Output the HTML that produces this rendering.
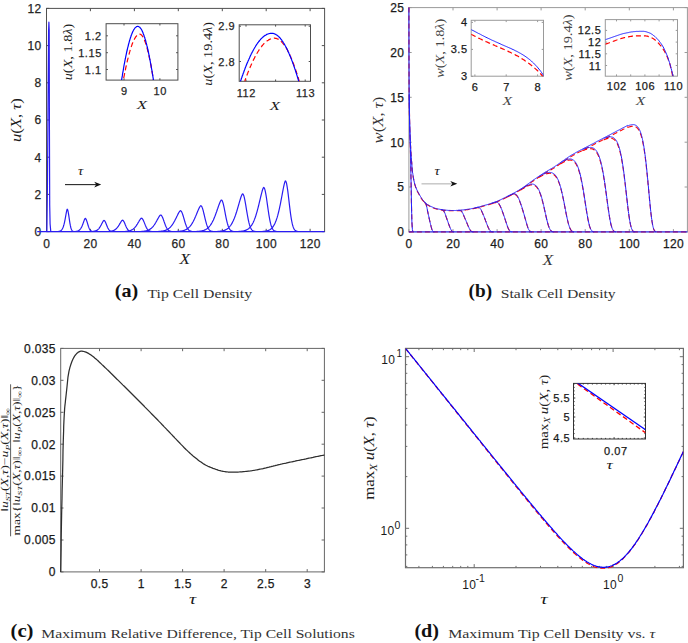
<!DOCTYPE html>
<html><head><meta charset="utf-8"><style>
html,body{margin:0;padding:0;background:#fff;}
svg{display:block;}
</style></head><body>
<svg width="688" height="643" viewBox="0 0 688 643">
<rect width="688" height="643" fill="#fff"/>
<rect x="46.5" y="8.4" width="278.1" height="223.2" fill="none" stroke="#505050" stroke-width="1"/>
<path d="M46.5,231.6V228.8M46.5,8.4V11.2M90.4,231.6V228.8M90.4,8.4V11.2M134.4,231.6V228.8M134.4,8.4V11.2M178.3,231.6V228.8M178.3,8.4V11.2M222.3,231.6V228.8M222.3,8.4V11.2M266.2,231.6V228.8M266.2,8.4V11.2M310.1,231.6V228.8M310.1,8.4V11.2M46.5,231.6H49.3M324.6,231.6H321.8M46.5,194.4H49.3M324.6,194.4H321.8M46.5,157.2H49.3M324.6,157.2H321.8M46.5,120H49.3M324.6,120H321.8M46.5,82.8H49.3M324.6,82.8H321.8M46.5,45.6H49.3M324.6,45.6H321.8M46.5,8.4H49.3M324.6,8.4H321.8" stroke="#505050" stroke-width="1" fill="none"/>
<text x="46.7" y="248" font-size="12" text-anchor="middle" fill="#262626" font-family="Liberation Sans, sans-serif"  letter-spacing="0.35" stroke="#262626" stroke-width="0.25">0</text>
<text x="90.6" y="248" font-size="12" text-anchor="middle" fill="#262626" font-family="Liberation Sans, sans-serif"  letter-spacing="0.35" stroke="#262626" stroke-width="0.25">20</text>
<text x="134.6" y="248" font-size="12" text-anchor="middle" fill="#262626" font-family="Liberation Sans, sans-serif"  letter-spacing="0.35" stroke="#262626" stroke-width="0.25">40</text>
<text x="178.5" y="248" font-size="12" text-anchor="middle" fill="#262626" font-family="Liberation Sans, sans-serif"  letter-spacing="0.35" stroke="#262626" stroke-width="0.25">60</text>
<text x="222.4" y="248" font-size="12" text-anchor="middle" fill="#262626" font-family="Liberation Sans, sans-serif"  letter-spacing="0.35" stroke="#262626" stroke-width="0.25">80</text>
<text x="266.4" y="248" font-size="12" text-anchor="middle" fill="#262626" font-family="Liberation Sans, sans-serif"  letter-spacing="0.35" stroke="#262626" stroke-width="0.25">100</text>
<text x="310.3" y="248" font-size="12" text-anchor="middle" fill="#262626" font-family="Liberation Sans, sans-serif"  letter-spacing="0.35" stroke="#262626" stroke-width="0.25">120</text>
<text x="41.6" y="235.9" font-size="12" text-anchor="end" fill="#262626" font-family="Liberation Sans, sans-serif"  letter-spacing="0.35" stroke="#262626" stroke-width="0.25">0</text>
<text x="41.6" y="198.7" font-size="12" text-anchor="end" fill="#262626" font-family="Liberation Sans, sans-serif"  letter-spacing="0.35" stroke="#262626" stroke-width="0.25">2</text>
<text x="41.6" y="161.5" font-size="12" text-anchor="end" fill="#262626" font-family="Liberation Sans, sans-serif"  letter-spacing="0.35" stroke="#262626" stroke-width="0.25">4</text>
<text x="41.6" y="124.3" font-size="12" text-anchor="end" fill="#262626" font-family="Liberation Sans, sans-serif"  letter-spacing="0.35" stroke="#262626" stroke-width="0.25">6</text>
<text x="41.6" y="87.1" font-size="12" text-anchor="end" fill="#262626" font-family="Liberation Sans, sans-serif"  letter-spacing="0.35" stroke="#262626" stroke-width="0.25">8</text>
<text x="41.6" y="49.9" font-size="12" text-anchor="end" fill="#262626" font-family="Liberation Sans, sans-serif"  letter-spacing="0.35" stroke="#262626" stroke-width="0.25">10</text>
<text x="41.6" y="12.7" font-size="12" text-anchor="end" fill="#262626" font-family="Liberation Sans, sans-serif"  letter-spacing="0.35" stroke="#262626" stroke-width="0.25">12</text>
<path d="M46.5,231.6H324.6M46.9,231.6L47.5,180L48.2,80L48.6,30L48.9,22.2L49.2,30L49.4,120L49.7,205L50.1,224L50.8,231.6M37.2,231.6L37.6,231.6L38,231.6L38.4,231.6L38.8,231.6L39.2,231.6L39.6,231.6L40,231.6L40.4,231.6L40.8,231.6L41.2,231.6L41.6,231.6L42,231.6L42.4,231.6L42.8,231.6L43.2,231.6L43.6,231.6L44,231.6L44.4,231.6L44.8,231.6L45.2,231.6L45.6,231.6L46,231.6L46.4,231.6L46.8,231.6L47.2,231.6L47.6,231.6L48,231.6L48.4,231.6L48.8,231.6L49.2,231.6L49.6,231.6L50,231.6L50.4,231.6L50.8,231.6L51.2,231.6L51.6,231.6L52,231.6L52.4,231.6L52.8,231.6L53.2,231.6L53.6,231.6L54,231.6L54.4,231.6L54.8,231.6L55.2,231.6L55.6,231.6L56,231.6L56.4,231.6L56.8,231.6L57.2,231.6L57.6,231.5L58,231.5L58.4,231.5L58.8,231.4L59.2,231.4L59.6,231.3L60,231.1L60.4,230.9L60.8,230.7L61.2,230.4L61.6,230L62,229.5L62.4,228.8L62.8,228L63.2,227L63.6,225.8L64,224.4L64.4,222.8L64.8,220.9L65.2,218.8L65.6,216.6L66,214.3L66.4,212.2L66.8,210.3L67.2,209.2L67.6,209.7L68,211L68.4,213.1L68.8,215.6L69.2,218.3L69.6,221.1L70,223.6L70.4,225.7L70.8,227.5L71.2,228.8L71.6,229.8L72,230.5L72.4,231L72.8,231.2L73.2,231.4L73.6,231.5L74,231.5L74.4,231.6L74.8,231.6L75.2,231.6L75.6,231.6L76,231.6L76.4,231.6L76.8,231.6L77.2,231.6L77.6,231.6L78,231.6L78.4,231.6L78.8,231.6L79.2,231.6L79.6,231.6L80,231.6L80.4,231.6L80.8,231.6L81.2,231.6L81.6,231.6L82,231.6M55.2,231.6L55.6,231.6L56,231.6L56.4,231.6L56.8,231.6L57.2,231.6L57.6,231.6L58,231.6L58.4,231.6L58.8,231.6L59.2,231.6L59.6,231.6L60,231.6L60.4,231.6L60.8,231.6L61.2,231.6L61.6,231.6L62,231.6L62.4,231.6L62.8,231.6L63.2,231.6L63.6,231.6L64,231.6L64.4,231.6L64.8,231.6L65.2,231.6L65.6,231.6L66,231.6L66.4,231.6L66.8,231.6L67.2,231.6L67.6,231.6L68,231.6L68.4,231.6L68.8,231.6L69.2,231.6L69.6,231.6L70,231.6L70.4,231.6L70.8,231.6L71.2,231.6L71.6,231.6L72,231.6L72.4,231.6L72.8,231.6L73.2,231.6L73.6,231.6L74,231.6L74.4,231.5L74.8,231.5L75.2,231.5L75.6,231.5L76,231.4L76.4,231.4L76.8,231.3L77.2,231.2L77.6,231.1L78,231L78.4,230.8L78.8,230.5L79.2,230.3L79.6,229.9L80,229.5L80.4,229L80.8,228.5L81.2,227.8L81.6,227.1L82,226.2L82.4,225.3L82.8,224.2L83.2,223.1L83.6,222L84,220.9L84.4,219.8L84.8,218.9L85.2,218.4L85.6,218.6L86,219.1L86.4,220L86.8,221.1L87.2,222.3L87.6,223.7L88,225L88.4,226.3L88.8,227.4L89.2,228.4L89.6,229.2L90,229.9L90.4,230.4L90.8,230.8L91.2,231.1L91.6,231.2L92,231.4L92.4,231.5L92.8,231.5L93.2,231.6L93.6,231.6L94,231.6L94.4,231.6L94.8,231.6L95.2,231.6L95.6,231.6L96,231.6L96.4,231.6L96.8,231.6L97.2,231.6L97.6,231.6L98,231.6L98.4,231.6L98.8,231.6L99.2,231.6L99.6,231.6L100,231.6M73.9,231.6L74.3,231.6L74.7,231.6L75.1,231.6L75.5,231.6L75.9,231.6L76.3,231.6L76.7,231.6L77.1,231.6L77.5,231.6L77.9,231.6L78.3,231.6L78.7,231.6L79.1,231.6L79.5,231.6L79.9,231.6L80.3,231.6L80.7,231.6L81.1,231.6L81.5,231.6L81.9,231.6L82.3,231.6L82.7,231.6L83.1,231.6L83.5,231.6L83.9,231.6L84.3,231.6L84.7,231.6L85.1,231.6L85.5,231.6L85.9,231.6L86.3,231.6L86.7,231.6L87.1,231.6L87.5,231.6L87.9,231.6L88.3,231.6L88.7,231.6L89.1,231.6L89.5,231.6L89.9,231.6L90.3,231.6L90.7,231.6L91.1,231.5L91.5,231.5L91.9,231.5L92.3,231.5L92.7,231.5L93.1,231.4L93.5,231.4L93.9,231.3L94.3,231.2L94.7,231.2L95.1,231.1L95.5,230.9L95.9,230.8L96.3,230.6L96.7,230.4L97.1,230.2L97.5,229.9L97.9,229.6L98.3,229.2L98.7,228.8L99.1,228.3L99.5,227.7L99.9,227.2L100.3,226.5L100.7,225.8L101.1,225.1L101.5,224.3L101.9,223.5L102.3,222.7L102.7,222L103.1,221.3L103.5,220.7L103.9,220.4L104.3,220.5L104.7,220.9L105.1,221.5L105.5,222.3L105.9,223.2L106.3,224.2L106.7,225.2L107.1,226.2L107.5,227.2L107.9,228.1L108.3,228.8L108.7,229.5L109.1,230L109.5,230.4L109.9,230.8L110.3,231L110.7,231.2L111.1,231.3L111.5,231.4L111.9,231.5L112.3,231.5L112.7,231.6L113.1,231.6L113.5,231.6L113.9,231.6L114.3,231.6L114.7,231.6L115.1,231.6L115.5,231.6L115.9,231.6L116.3,231.6L116.7,231.6L117.1,231.6L117.5,231.6L117.9,231.6L118.3,231.6L118.7,231.6M92.4,231.6L92.8,231.6L93.2,231.6L93.6,231.6L94,231.6L94.4,231.6L94.8,231.6L95.2,231.6L95.6,231.6L96,231.6L96.4,231.6L96.8,231.6L97.2,231.6L97.6,231.6L98,231.6L98.4,231.6L98.8,231.6L99.2,231.6L99.6,231.6L100,231.6L100.4,231.6L100.8,231.6L101.2,231.6L101.6,231.6L102,231.6L102.4,231.6L102.8,231.6L103.2,231.6L103.6,231.6L104,231.6L104.4,231.6L104.8,231.6L105.2,231.6L105.6,231.6L106,231.6L106.4,231.6L106.8,231.6L107.2,231.5L107.6,231.5L108,231.5L108.4,231.5L108.8,231.5L109.2,231.4L109.6,231.4L110,231.4L110.4,231.3L110.8,231.3L111.2,231.2L111.6,231.1L112,231L112.4,230.9L112.8,230.8L113.2,230.7L113.6,230.5L114,230.3L114.4,230.1L114.8,229.9L115.2,229.6L115.6,229.3L116,228.9L116.4,228.6L116.8,228.1L117.2,227.7L117.6,227.2L118,226.6L118.4,226.1L118.8,225.4L119.2,224.8L119.6,224.1L120,223.4L120.4,222.8L120.8,222.1L121.2,221.5L121.6,220.9L122,220.5L122.4,220.2L122.8,220.3L123.2,220.6L123.6,221.1L124,221.8L124.4,222.6L124.8,223.5L125.2,224.5L125.6,225.4L126,226.4L126.4,227.2L126.8,228L127.2,228.7L127.6,229.3L128,229.9L128.4,230.3L128.8,230.6L129.2,230.9L129.6,231.1L130,231.2L130.4,231.4L130.8,231.4L131.2,231.5L131.6,231.5L132,231.6L132.4,231.6L132.8,231.6L133.2,231.6L133.6,231.6L134,231.6L134.4,231.6L134.8,231.6L135.2,231.6L135.6,231.6L136,231.6L136.4,231.6L136.8,231.6L137.2,231.6M111.4,231.6L111.8,231.6L112.2,231.6L112.6,231.6L113,231.6L113.4,231.6L113.8,231.6L114.2,231.6L114.6,231.6L115,231.6L115.4,231.6L115.8,231.6L116.2,231.6L116.6,231.6L117,231.6L117.4,231.6L117.8,231.6L118.2,231.6L118.6,231.6L119,231.6L119.4,231.6L119.8,231.6L120.2,231.6L120.6,231.6L121,231.6L121.4,231.6L121.8,231.6L122.2,231.6L122.6,231.6L123,231.5L123.4,231.5L123.8,231.5L124.2,231.5L124.6,231.5L125,231.5L125.4,231.5L125.8,231.4L126.2,231.4L126.6,231.4L127,231.3L127.4,231.3L127.8,231.2L128.2,231.1L128.6,231.1L129,231L129.4,230.9L129.8,230.8L130.2,230.6L130.6,230.5L131,230.3L131.4,230.1L131.8,229.9L132.2,229.7L132.6,229.5L133,229.2L133.4,228.9L133.8,228.5L134.2,228.2L134.6,227.7L135,227.3L135.4,226.8L135.8,226.3L136.2,225.8L136.6,225.2L137,224.6L137.4,224L137.8,223.3L138.2,222.6L138.6,222L139,221.3L139.4,220.6L139.8,220L140.2,219.4L140.6,218.9L141,218.4L141.4,218.2L141.8,218.3L142.2,218.6L142.6,219.1L143,219.7L143.4,220.5L143.8,221.4L144.2,222.4L144.6,223.4L145,224.4L145.4,225.4L145.8,226.3L146.2,227.2L146.6,227.9L147,228.6L147.4,229.2L147.8,229.7L148.2,230.1L148.6,230.5L149,230.8L149.4,231L149.8,231.1L150.2,231.3L150.6,231.4L151,231.4L151.4,231.5L151.8,231.5L152.2,231.6L152.6,231.6L153,231.6L153.4,231.6L153.8,231.6L154.2,231.6L154.6,231.6L155,231.6L155.4,231.6L155.8,231.6L156.2,231.6M130.6,231.6L131,231.6L131.4,231.6L131.8,231.6L132.2,231.6L132.6,231.6L133,231.6L133.4,231.6L133.8,231.6L134.2,231.6L134.6,231.6L135,231.6L135.4,231.6L135.8,231.6L136.2,231.6L136.6,231.6L137,231.6L137.4,231.6L137.8,231.6L138.2,231.6L138.6,231.6L139,231.5L139.4,231.5L139.8,231.5L140.2,231.5L140.6,231.5L141,231.5L141.4,231.5L141.8,231.4L142.2,231.4L142.6,231.4L143,231.3L143.4,231.3L143.8,231.3L144.2,231.2L144.6,231.2L145,231.1L145.4,231L145.8,230.9L146.2,230.9L146.6,230.8L147,230.6L147.4,230.5L147.8,230.4L148.2,230.2L148.6,230L149,229.8L149.4,229.6L149.8,229.4L150.2,229.1L150.6,228.8L151,228.5L151.4,228.2L151.8,227.8L152.2,227.4L152.6,227L153,226.6L153.4,226.1L153.8,225.5L154.2,225L154.6,224.4L155,223.8L155.4,223.1L155.8,222.5L156.2,221.8L156.6,221.1L157,220.3L157.4,219.6L157.8,218.9L158.2,218.2L158.6,217.5L159,216.8L159.4,216.2L159.8,215.7L160.2,215.2L160.6,215L161,215.1L161.4,215.4L161.8,216L162.2,216.7L162.6,217.5L163,218.5L163.4,219.6L163.8,220.7L164.2,221.9L164.6,223L165,224.1L165.4,225.2L165.8,226.2L166.2,227L166.6,227.8L167,228.5L167.4,229.1L167.8,229.6L168.2,230.1L168.6,230.4L169,230.7L169.4,230.9L169.8,231.1L170.2,231.2L170.6,231.3L171,231.4L171.4,231.5L171.8,231.5L172.2,231.5L172.6,231.6L173,231.6L173.4,231.6L173.8,231.6L174.2,231.6L174.6,231.6L175,231.6L175.4,231.6M150.4,231.6L150.8,231.6L151.2,231.6L151.6,231.6L152,231.6L152.4,231.6L152.8,231.6L153.2,231.6L153.6,231.6L154,231.6L154.4,231.6L154.8,231.6L155.2,231.6L155.6,231.5L156,231.5L156.4,231.5L156.8,231.5L157.2,231.5L157.6,231.5L158,231.5L158.4,231.5L158.8,231.4L159.2,231.4L159.6,231.4L160,231.4L160.4,231.3L160.8,231.3L161.2,231.2L161.6,231.2L162,231.1L162.4,231.1L162.8,231L163.2,230.9L163.6,230.9L164,230.8L164.4,230.7L164.8,230.5L165.2,230.4L165.6,230.3L166,230.1L166.4,229.9L166.8,229.8L167.2,229.5L167.6,229.3L168,229.1L168.4,228.8L168.8,228.5L169.2,228.2L169.6,227.8L170,227.5L170.4,227.1L170.8,226.6L171.2,226.2L171.6,225.7L172,225.2L172.4,224.6L172.8,224L173.2,223.4L173.6,222.7L174,222L174.4,221.3L174.8,220.6L175.2,219.8L175.6,219L176,218.2L176.4,217.4L176.8,216.6L177.2,215.8L177.6,214.9L178,214.1L178.4,213.4L178.8,212.6L179.2,212L179.6,211.4L180,211L180.4,210.7L180.8,210.8L181.2,211.2L181.6,211.8L182,212.6L182.4,213.6L182.8,214.8L183.2,216L183.6,217.4L184,218.7L184.4,220.1L184.8,221.5L185.2,222.8L185.6,224L186,225.1L186.4,226.2L186.8,227.1L187.2,227.9L187.6,228.6L188,229.2L188.4,229.7L188.8,230.1L189.2,230.5L189.6,230.7L190,230.9L190.4,231.1L190.8,231.2L191.2,231.3L191.6,231.4L192,231.5L192.4,231.5L192.8,231.5L193.2,231.6L193.6,231.6L194,231.6L194.4,231.6L194.8,231.6L195.2,231.6M170.8,231.6L171.2,231.6L171.6,231.6L172,231.6L172.4,231.6L172.8,231.6L173.2,231.6L173.6,231.6L174,231.5L174.4,231.5L174.8,231.5L175.2,231.5L175.6,231.5L176,231.5L176.4,231.5L176.8,231.5L177.2,231.4L177.6,231.4L178,231.4L178.4,231.4L178.8,231.3L179.2,231.3L179.6,231.3L180,231.2L180.4,231.2L180.8,231.1L181.2,231.1L181.6,231L182,230.9L182.4,230.9L182.8,230.8L183.2,230.7L183.6,230.5L184,230.4L184.4,230.3L184.8,230.1L185.2,230L185.6,229.8L186,229.6L186.4,229.4L186.8,229.1L187.2,228.9L187.6,228.6L188,228.3L188.4,228L188.8,227.6L189.2,227.2L189.6,226.8L190,226.3L190.4,225.9L190.8,225.3L191.2,224.8L191.6,224.2L192,223.6L192.4,222.9L192.8,222.2L193.2,221.5L193.6,220.7L194,219.9L194.4,219.1L194.8,218.2L195.2,217.3L195.6,216.4L196,215.4L196.4,214.5L196.8,213.5L197.2,212.5L197.6,211.6L198,210.6L198.4,209.7L198.8,208.8L199.2,207.9L199.6,207.2L200,206.5L200.4,206L200.8,205.7L201.2,205.9L201.6,206.3L202,207.1L202.4,208.1L202.8,209.3L203.2,210.7L203.6,212.3L204,214L204.4,215.7L204.8,217.4L205.2,219.1L205.6,220.7L206,222.2L206.4,223.6L206.8,224.9L207.2,226L207.6,227L208,227.9L208.4,228.6L208.8,229.2L209.2,229.8L209.6,230.2L210,230.5L210.4,230.8L210.8,231L211.2,231.2L211.6,231.3L212,231.4L212.4,231.4L212.8,231.5L213.2,231.5L213.6,231.5L214,231.6L214.4,231.6L214.8,231.6L215.2,231.6L215.6,231.6M191.4,231.6L191.8,231.6L192.2,231.6L192.6,231.6L193,231.6L193.4,231.6L193.8,231.5L194.2,231.5L194.6,231.5L195,231.5L195.4,231.5L195.8,231.5L196.2,231.5L196.6,231.5L197,231.4L197.4,231.4L197.8,231.4L198.2,231.4L198.6,231.3L199,231.3L199.4,231.3L199.8,231.2L200.2,231.2L200.6,231.1L201,231L201.4,231L201.8,230.9L202.2,230.8L202.6,230.7L203,230.6L203.4,230.5L203.8,230.4L204.2,230.2L204.6,230.1L205,229.9L205.4,229.7L205.8,229.5L206.2,229.2L206.6,229L207,228.7L207.4,228.4L207.8,228.1L208.2,227.7L208.6,227.4L209,226.9L209.4,226.5L209.8,226L210.2,225.5L210.6,224.9L211,224.3L211.4,223.7L211.8,223L212.2,222.3L212.6,221.5L213,220.7L213.4,219.9L213.8,219L214.2,218.1L214.6,217.1L215,216.1L215.4,215L215.8,213.9L216.2,212.8L216.6,211.7L217,210.5L217.4,209.3L217.8,208.2L218.2,207L218.6,205.9L219,204.8L219.4,203.7L219.8,202.7L220.2,201.8L220.6,201L221,200.3L221.4,200L221.8,200.2L222.2,200.7L222.6,201.7L223,202.9L223.4,204.4L223.8,206.1L224.2,208L224.6,210.1L225,212.2L225.4,214.3L225.8,216.3L226.2,218.3L226.6,220.1L227,221.8L227.4,223.4L227.8,224.8L228.2,226L228.6,227.1L229,228L229.4,228.7L229.8,229.4L230.2,229.9L230.6,230.3L231,230.6L231.4,230.9L231.8,231.1L232.2,231.2L232.6,231.3L233,231.4L233.4,231.5L233.8,231.5L234.2,231.5L234.6,231.6L235,231.6L235.4,231.6L235.8,231.6L236.2,231.6M212.6,231.6L213,231.6L213.4,231.6L213.8,231.6L214.2,231.6L214.6,231.5L215,231.5L215.4,231.5L215.8,231.5L216.2,231.5L216.6,231.5L217,231.5L217.4,231.5L217.8,231.4L218.2,231.4L218.6,231.4L219,231.4L219.4,231.3L219.8,231.3L220.2,231.2L220.6,231.2L221,231.1L221.4,231.1L221.8,231L222.2,230.9L222.6,230.9L223,230.8L223.4,230.7L223.8,230.5L224.2,230.4L224.6,230.3L225,230.1L225.4,229.9L225.8,229.8L226.2,229.5L226.6,229.3L227,229.1L227.4,228.8L227.8,228.5L228.2,228.2L228.6,227.8L229,227.4L229.4,227L229.8,226.5L230.2,226L230.6,225.5L231,224.9L231.4,224.3L231.8,223.6L232.2,222.9L232.6,222.1L233,221.3L233.4,220.5L233.8,219.6L234.2,218.6L234.6,217.6L235,216.5L235.4,215.4L235.8,214.2L236.2,213L236.6,211.8L237,210.5L237.4,209.1L237.8,207.8L238.2,206.4L238.6,205L239,203.6L239.4,202.2L239.8,200.8L240.2,199.5L240.6,198.2L241,197L241.4,195.9L241.8,195L242.2,194.2L242.6,193.8L243,194L243.4,194.7L243.8,195.7L244.2,197.1L244.6,198.8L245,200.8L245.4,203.1L245.8,205.4L246.2,207.8L246.6,210.3L247,212.7L247.4,215L247.8,217.2L248.2,219.3L248.6,221.2L249,222.9L249.4,224.4L249.8,225.7L250.2,226.8L250.6,227.8L251,228.6L251.4,229.2L251.8,229.8L252.2,230.2L252.6,230.5L253,230.8L253.4,231L253.8,231.2L254.2,231.3L254.6,231.4L255,231.4L255.4,231.5L255.8,231.5L256.2,231.5L256.6,231.6L257,231.6L257.4,231.6M233.7,231.6L234.1,231.6L234.5,231.6L234.9,231.6L235.3,231.6L235.7,231.6L236.1,231.5L236.5,231.5L236.9,231.5L237.3,231.5L237.7,231.5L238.1,231.5L238.5,231.5L238.9,231.4L239.3,231.4L239.7,231.4L240.1,231.4L240.5,231.3L240.9,231.3L241.3,231.3L241.7,231.2L242.1,231.2L242.5,231.1L242.9,231L243.3,231L243.7,230.9L244.1,230.8L244.5,230.7L244.9,230.6L245.3,230.4L245.7,230.3L246.1,230.1L246.5,229.9L246.9,229.7L247.3,229.5L247.7,229.3L248.1,229L248.5,228.7L248.9,228.4L249.3,228L249.7,227.6L250.1,227.2L250.5,226.7L250.9,226.2L251.3,225.7L251.7,225.1L252.1,224.4L252.5,223.7L252.9,223L253.3,222.2L253.7,221.3L254.1,220.4L254.5,219.4L254.9,218.3L255.3,217.2L255.7,216L256.1,214.7L256.5,213.4L256.9,212.1L257.3,210.6L257.7,209.1L258.1,207.6L258.5,206L258.9,204.4L259.3,202.7L259.7,201L260.1,199.3L260.5,197.6L260.9,196L261.3,194.3L261.7,192.8L262.1,191.3L262.5,190L262.9,188.8L263.3,187.9L263.7,187.4L264.1,187.7L264.5,188.4L264.9,189.6L265.3,191.3L265.7,193.3L266.1,195.6L266.5,198.2L266.9,201L267.3,203.8L267.7,206.7L268.1,209.5L268.5,212.2L268.9,214.8L269.3,217.2L269.7,219.4L270.1,221.4L270.5,223.2L270.9,224.7L271.3,226L271.7,227.1L272.1,228.1L272.5,228.8L272.9,229.5L273.3,230L273.7,230.4L274.1,230.7L274.5,230.9L274.9,231.1L275.3,231.2L275.7,231.3L276.1,231.4L276.5,231.5L276.9,231.5L277.3,231.5L277.7,231.6L278.1,231.6L278.5,231.6M255.4,231.6L255.8,231.6L256.2,231.6L256.6,231.6L257,231.6L257.4,231.6L257.8,231.6L258.2,231.6L258.6,231.6L259,231.6L259.4,231.6L259.8,231.6L260.2,231.5L260.6,231.5L261,231.5L261.4,231.5L261.8,231.5L262.2,231.5L262.6,231.5L263,231.4L263.4,231.4L263.8,231.4L264.2,231.3L264.6,231.3L265,231.2L265.4,231.2L265.8,231.1L266.2,231L266.6,231L267,230.9L267.4,230.8L267.8,230.6L268.2,230.5L268.6,230.3L269,230.2L269.4,230L269.8,229.8L270.2,229.5L270.6,229.2L271,228.9L271.4,228.6L271.8,228.2L272.2,227.7L272.6,227.3L273,226.7L273.4,226.2L273.8,225.5L274.2,224.8L274.6,224.1L275,223.2L275.4,222.3L275.8,221.3L276.2,220.3L276.6,219.1L277,217.9L277.4,216.6L277.8,215.2L278.2,213.6L278.6,212L279,210.4L279.4,208.6L279.8,206.7L280.2,204.8L280.6,202.8L281,200.7L281.4,198.6L281.8,196.5L282.2,194.3L282.6,192.2L283,190.1L283.4,188L283.8,186.1L284.2,184.4L284.6,182.8L285,181.6L285.4,180.9L285.8,181.2L286.2,182.2L286.6,183.7L287,185.8L287.4,188.3L287.8,191.2L288.2,194.3L288.6,197.7L289,201.1L289.4,204.6L289.8,207.9L290.2,211.1L290.6,214.1L291,216.8L291.4,219.3L291.8,221.5L292.2,223.4L292.6,225L293,226.4L293.4,227.5L293.8,228.4L294.2,229.2L294.6,229.8L295,230.2L295.4,230.6L295.8,230.9L296.2,231.1L296.6,231.2L297,231.3L297.4,231.4L297.8,231.5L298.2,231.5L298.6,231.5L299,231.6L299.4,231.6L299.8,231.6L300.2,231.6" stroke="#2a1cf2" stroke-width="1.2" fill="none" stroke-linejoin="round"/>
<line x1="65" y1="184.6" x2="96.2" y2="184.6" stroke="#262626" stroke-width="1.1" />
<path d="M101.2,184.6L94.2,181.8L96.2,184.6L94.2,187.4Z" fill="#111"/>
<text x="80.5" y="174.9" font-size="11.5" text-anchor="middle" fill="#1a1a1a" font-family="Liberation Serif, serif" textLength="5.2" lengthAdjust="spacingAndGlyphs"><tspan font-style="italic">τ</tspan></text>
<text x="184.9" y="264.2" font-size="14.4" text-anchor="middle" fill="#1a1a1a" font-family="Liberation Serif, serif" textLength="10.6" lengthAdjust="spacingAndGlyphs"><tspan font-style="italic">X</tspan></text>
<text transform="translate(20.6,120.1) rotate(-90)" font-size="14.4" text-anchor="middle" fill="#1a1a1a" font-family="Liberation Serif, serif" textLength="44" lengthAdjust="spacingAndGlyphs"><tspan font-style="italic">u</tspan><tspan>(</tspan><tspan font-style="italic">X</tspan><tspan>, </tspan><tspan font-style="italic">τ</tspan><tspan>)</tspan></text>
<rect x="106.1" y="23.7" width="71.8" height="56.4" fill="#fff" stroke="#4d4d4d" stroke-width="1"/>
<path d="M124,80.1V78.3M124,23.7V25.5M159.9,80.1V78.3M159.9,23.7V25.5M106.1,69.5H107.9M177.9,69.5H176.1M106.1,52.7H107.9M177.9,52.7H176.1M106.1,35.8H107.9M177.9,35.8H176.1" stroke="#4d4d4d" stroke-width="1" fill="none"/>
<clipPath id="ca1"><rect x="106.1" y="23.7" width="71.80000000000001" height="56.39999999999999"/></clipPath>
<g clip-path="url(#ca1)"><path d="M106.1,196.8L106.5,193.5L107,190.2L107.4,186.8L107.9,183.5L108.3,180.2L108.8,176.8L109.2,173.5L109.7,170.2L110.1,166.9L110.6,163.6L111,160.3L111.5,157.1L111.9,153.8L112.4,150.6L112.8,147.3L113.3,144.1L113.7,141L114.2,137.8L114.6,134.7L115.1,131.6L115.5,128.5L116,125.4L116.4,122.4L116.9,119.4L117.3,116.4L117.8,113.5L118.2,110.6L118.7,107.7L119.1,104.9L119.6,102.1L120,99.3L120.5,96.6L120.9,93.9L121.4,91.3L121.8,88.7L122.3,86.2L122.7,83.7L123.2,81.2L123.6,78.9L124,76.5L124.5,74.2L124.9,72L125.4,69.8L125.8,67.7L126.3,65.6L126.7,63.6L127.2,61.6L127.6,59.8L128.1,57.9L128.5,56.2L129,54.4L129.4,52.8L129.9,51.2L130.3,49.7L130.8,48.3L131.2,46.9L131.7,45.6L132.1,44.3L132.6,43.1L133,42L133.5,41L133.9,40L134.4,39.1L134.8,38.3L135.3,37.6L135.7,36.9L136.2,36.3L136.6,35.8L137.1,35.3L137.5,34.9L138,34.6L138.4,34.4L138.9,34.2L139.3,34.1L139.8,34.1L140.2,34.2L140.7,34.4L141.1,34.7L141.6,35.1L142,35.6L142.4,36.2L142.9,36.9L143.3,37.7L143.8,38.6L144.2,39.6L144.7,40.7L145.1,41.8L145.6,43.1L146,44.5L146.5,46L146.9,47.6L147.4,49.2L147.8,51L148.3,52.8L148.7,54.8L149.2,56.8L149.6,58.9L150.1,61.1L150.5,63.3L151,65.7L151.4,68.1L151.9,70.6L152.3,73.2L152.8,75.9L153.2,78.6L153.7,81.4L154.1,84.2L154.6,87.2L155,90.2L155.5,93.2L155.9,96.3L156.4,99.5L156.8,102.7L157.3,106L157.7,109.4L158.2,112.8L158.6,116.2L159.1,119.7L159.5,123.2L159.9,126.7L160.4,130.3L160.8,134L161.3,137.6L161.7,141.3L162.2,145.1L162.6,148.8L163.1,152.6L163.5,156.4L164,160.2L164.4,164L164.9,167.9L165.3,171.8L165.8,175.6L166.2,179.5L166.7,183.4L167.1,187.3L167.6,191.2L168,195.1L168.5,199.1L168.9,203L169.4,206.9L169.8,210.7L170.3,214.6L170.7,218.5L171.2,222.4L171.6,226.2L172.1,230.1L172.5,233.9L173,237.7L173.4,241.5L173.9,245.2L174.3,248.9L174.8,252.7L175.2,256.3L175.7,260L176.1,263.6L176.6,267.2L177,270.8L177.5,274.3L177.9,277.8" stroke="#ff0000" stroke-width="1.2" stroke-dasharray="5,3" fill="none"/><path d="M106.1,197.4L106.5,193.8L107,190.1L107.4,186.4L107.9,182.7L108.3,179L108.8,175.4L109.2,171.7L109.7,168L110.1,164.4L110.6,160.7L111,157.1L111.5,153.5L111.9,149.9L112.4,146.3L112.8,142.8L113.3,139.2L113.7,135.7L114.2,132.2L114.6,128.8L115.1,125.4L115.5,122L116,118.6L116.4,115.3L116.9,112L117.3,108.7L117.8,105.5L118.2,102.3L118.7,99.2L119.1,96.1L119.6,93L120,90L120.5,87.1L120.9,84.2L121.4,81.4L121.8,78.6L122.3,75.9L122.7,73.2L123.2,70.6L123.6,68L124,65.5L124.5,63.1L124.9,60.8L125.4,58.5L125.8,56.3L126.3,54.1L126.7,52L127.2,50L127.6,48.1L128.1,46.3L128.5,44.5L129,42.8L129.4,41.2L129.9,39.6L130.3,38.2L130.8,36.8L131.2,35.5L131.7,34.3L132.1,33.2L132.6,32.1L133,31.2L133.5,30.3L133.9,29.5L134.4,28.8L134.8,28.2L135.3,27.7L135.7,27.2L136.2,26.9L136.6,26.6L137.1,26.5L137.5,26.4L138,26.4L138.4,26.5L138.9,26.7L139.3,27L139.8,27.3L140.2,27.8L140.7,28.4L141.1,29L141.6,29.8L142,30.6L142.4,31.6L142.9,32.6L143.3,33.7L143.8,34.9L144.2,36.2L144.7,37.5L145.1,39L145.6,40.5L146,42.2L146.5,43.9L146.9,45.7L147.4,47.5L147.8,49.5L148.3,51.5L148.7,53.6L149.2,55.8L149.6,58.1L150.1,60.4L150.5,62.8L151,65.2L151.4,67.8L151.9,70.4L152.3,73L152.8,75.8L153.2,78.5L153.7,81.4L154.1,84.3L154.6,87.3L155,90.3L155.5,93.3L155.9,96.5L156.4,99.6L156.8,102.8L157.3,106.1L157.7,109.4L158.2,112.7L158.6,116.1L159.1,119.5L159.5,123L159.9,126.5L160.4,130L160.8,133.6L161.3,137.1L161.7,140.7L162.2,144.4L162.6,148L163.1,151.7L163.5,155.4L164,159.1L164.4,162.8L164.9,166.5L165.3,170.2L165.8,174L166.2,177.8L166.7,181.5L167.1,185.3L167.6,189L168,192.8L168.5,196.6L168.9,200.3L169.4,204.1L169.8,207.8L170.3,211.6L170.7,215.3L171.2,219L171.6,222.7L172.1,226.4L172.5,230.1L173,233.8L173.4,237.4L173.9,241.1L174.3,244.7L174.8,248.2L175.2,251.8L175.7,255.3L176.1,258.8L176.6,262.3L177,265.8L177.5,269.2L177.9,272.6" stroke="#0000ff" stroke-width="1.2" fill="none"/></g>
<text x="101.8" y="73.5" font-size="11" text-anchor="end" fill="#262626" font-family="Liberation Sans, sans-serif"  letter-spacing="0.55" stroke="#262626" stroke-width="0.25">1.1</text>
<text x="101.8" y="56.7" font-size="11" text-anchor="end" fill="#262626" font-family="Liberation Sans, sans-serif"  letter-spacing="0.55" stroke="#262626" stroke-width="0.25">1.15</text>
<text x="101.8" y="39.8" font-size="11" text-anchor="end" fill="#262626" font-family="Liberation Sans, sans-serif"  letter-spacing="0.55" stroke="#262626" stroke-width="0.25">1.2</text>
<text x="124.3" y="94.6" font-size="11" text-anchor="middle" fill="#262626" font-family="Liberation Sans, sans-serif"  letter-spacing="0.55" stroke="#262626" stroke-width="0.25">9</text>
<text x="160.2" y="94.6" font-size="11" text-anchor="middle" fill="#262626" font-family="Liberation Sans, sans-serif"  letter-spacing="0.55" stroke="#262626" stroke-width="0.25">10</text>
<text x="141.9" y="108.6" font-size="12.3" text-anchor="middle" fill="#1a1a1a" font-family="Liberation Serif, serif" textLength="10.3" lengthAdjust="spacingAndGlyphs"><tspan font-style="italic">X</tspan></text>
<text transform="translate(71.8,52) rotate(-90)" font-size="12.3" text-anchor="middle" fill="#1a1a1a" font-family="Liberation Serif, serif" textLength="56.6" lengthAdjust="spacingAndGlyphs"><tspan font-style="italic">u</tspan><tspan>(</tspan><tspan font-style="italic">X</tspan><tspan>, </tspan><tspan>1.8</tspan><tspan font-style="italic">λ</tspan><tspan>)</tspan></text>
<rect x="239.2" y="24.8" width="71.3" height="56.5" fill="#fff" stroke="#4d4d4d" stroke-width="1"/>
<path d="M246,81.3V79.5M246,24.8V26.6M275.6,81.3V79.5M275.6,24.8V26.6M305.2,81.3V79.5M305.2,24.8V26.6M239.2,61.5H241M310.5,61.5H308.7M239.2,26.2H241M310.5,26.2H308.7" stroke="#4d4d4d" stroke-width="1" fill="none"/>
<clipPath id="ca2"><rect x="239.2" y="24.8" width="71.30000000000001" height="56.5"/></clipPath>
<g clip-path="url(#ca2)"><path d="M239.2,98.2L239.6,96.7L240.1,95.3L240.5,93.8L241,92.4L241.4,91L241.9,89.7L242.3,88.3L242.8,86.9L243.2,85.6L243.7,84.3L244.1,83L244.6,81.7L245,80.5L245.4,79.2L245.9,78L246.3,76.8L246.8,75.6L247.2,74.4L247.7,73.3L248.1,72.1L248.6,71L249,69.9L249.5,68.8L249.9,67.8L250.3,66.7L250.8,65.7L251.2,64.7L251.7,63.7L252.1,62.7L252.6,61.8L253,60.8L253.5,59.9L253.9,59L254.4,58.1L254.8,57.3L255.3,56.4L255.7,55.6L256.1,54.8L256.6,54L257,53.2L257.5,52.5L257.9,51.7L258.4,51L258.8,50.3L259.3,49.7L259.7,49L260.2,48.4L260.6,47.7L261,47.1L261.5,46.6L261.9,46L262.4,45.5L262.8,44.9L263.3,44.4L263.7,43.9L264.2,43.5L264.6,43L265.1,42.6L265.5,42.2L266,41.8L266.4,41.5L266.8,41.1L267.3,40.8L267.7,40.5L268.2,40.2L268.6,39.9L269.1,39.7L269.5,39.4L270,39.2L270.4,39L270.9,38.9L271.3,38.7L271.7,38.6L272.2,38.5L272.6,38.4L273.1,38.3L273.5,38.3L274,38.2L274.4,38.2L274.9,38.2L275.3,38.3L275.8,38.3L276.2,38.4L276.7,38.6L277.1,38.7L277.5,38.9L278,39.1L278.4,39.3L278.9,39.6L279.3,39.9L279.8,40.2L280.2,40.6L280.7,40.9L281.1,41.4L281.6,41.8L282,42.3L282.4,42.7L282.9,43.3L283.3,43.8L283.8,44.4L284.2,45L284.7,45.6L285.1,46.3L285.6,47L286,47.7L286.5,48.4L286.9,49.2L287.4,50L287.8,50.8L288.2,51.7L288.7,52.6L289.1,53.5L289.6,54.4L290,55.4L290.5,56.4L290.9,57.4L291.4,58.4L291.8,59.5L292.3,60.6L292.7,61.7L293.1,62.8L293.6,64L294,65.2L294.5,66.5L294.9,67.7L295.4,69L295.8,70.3L296.3,71.6L296.7,73L297.2,74.4L297.6,75.8L298.1,77.2L298.5,78.7L298.9,80.1L299.4,81.7L299.8,83.2L300.3,84.8L300.7,86.3L301.2,87.9L301.6,89.6L302.1,91.2L302.5,92.9L303,94.6L303.4,96.3L303.8,98.1L304.3,99.9L304.7,101.7L305.2,103.5L305.6,105.3L306.1,107.2L306.5,109.1L307,111L307.4,112.9L307.9,114.9L308.3,116.9L308.8,118.9L309.2,120.9L309.6,123L310.1,125L310.5,127.1" stroke="#ff0000" stroke-width="1.2" stroke-dasharray="5,3" fill="none"/><path d="M239.2,85.3L239.6,83.9L240.1,82.5L240.5,81.2L241,79.8L241.4,78.5L241.9,77.2L242.3,75.9L242.8,74.7L243.2,73.4L243.7,72.2L244.1,71L244.6,69.8L245,68.6L245.4,67.5L245.9,66.3L246.3,65.2L246.8,64.1L247.2,63L247.7,62L248.1,60.9L248.6,59.9L249,58.9L249.5,57.9L249.9,56.9L250.3,56L250.8,55L251.2,54.1L251.7,53.2L252.1,52.4L252.6,51.5L253,50.7L253.5,49.8L253.9,49L254.4,48.3L254.8,47.5L255.3,46.8L255.7,46L256.1,45.3L256.6,44.7L257,44L257.5,43.3L257.9,42.7L258.4,42.1L258.8,41.5L259.3,41L259.7,40.4L260.2,39.9L260.6,39.4L261,38.9L261.5,38.4L261.9,38L262.4,37.6L262.8,37.2L263.3,36.8L263.7,36.4L264.2,36.1L264.6,35.7L265.1,35.4L265.5,35.2L266,34.9L266.4,34.6L266.8,34.4L267.3,34.2L267.7,34L268.2,33.9L268.6,33.7L269.1,33.6L269.5,33.5L270,33.4L270.4,33.3L270.9,33.3L271.3,33.3L271.7,33.3L272.2,33.3L272.6,33.3L273.1,33.4L273.5,33.5L274,33.7L274.4,33.8L274.9,34L275.3,34.2L275.8,34.4L276.2,34.7L276.7,35L277.1,35.3L277.5,35.6L278,36L278.4,36.4L278.9,36.8L279.3,37.3L279.8,37.7L280.2,38.2L280.7,38.8L281.1,39.3L281.6,39.9L282,40.5L282.4,41.1L282.9,41.8L283.3,42.5L283.8,43.2L284.2,43.9L284.7,44.7L285.1,45.5L285.6,46.3L286,47.1L286.5,48L286.9,48.8L287.4,49.8L287.8,50.7L288.2,51.7L288.7,52.6L289.1,53.7L289.6,54.7L290,55.8L290.5,56.8L290.9,58L291.4,59.1L291.8,60.3L292.3,61.4L292.7,62.7L293.1,63.9L293.6,65.1L294,66.4L294.5,67.7L294.9,69.1L295.4,70.4L295.8,71.8L296.3,73.2L296.7,74.6L297.2,76.1L297.6,77.6L298.1,79L298.5,80.6L298.9,82.1L299.4,83.7L299.8,85.3L300.3,86.9L300.7,88.5L301.2,90.2L301.6,91.8L302.1,93.5L302.5,95.2L303,97L303.4,98.8L303.8,100.5L304.3,102.3L304.7,104.2L305.2,106L305.6,107.9L306.1,109.8L306.5,111.7L307,113.6L307.4,115.6L307.9,117.6L308.3,119.5L308.8,121.6L309.2,123.6L309.6,125.6L310.1,127.7L310.5,129.8" stroke="#0000ff" stroke-width="1.2" fill="none"/></g>
<text x="235.2" y="65.5" font-size="11" text-anchor="end" fill="#262626" font-family="Liberation Sans, sans-serif"  letter-spacing="0.55" stroke="#262626" stroke-width="0.25">2.8</text>
<text x="235.2" y="30.2" font-size="11" text-anchor="end" fill="#262626" font-family="Liberation Sans, sans-serif"  letter-spacing="0.55" stroke="#262626" stroke-width="0.25">2.9</text>
<text x="246.3" y="96.6" font-size="11" text-anchor="middle" fill="#262626" font-family="Liberation Sans, sans-serif"  letter-spacing="0.55" stroke="#262626" stroke-width="0.25">112</text>
<text x="305.5" y="96.6" font-size="11" text-anchor="middle" fill="#262626" font-family="Liberation Sans, sans-serif"  letter-spacing="0.55" stroke="#262626" stroke-width="0.25">113</text>
<text x="274.9" y="109.9" font-size="12.3" text-anchor="middle" fill="#1a1a1a" font-family="Liberation Serif, serif" textLength="10.3" lengthAdjust="spacingAndGlyphs"><tspan font-style="italic">X</tspan></text>
<text transform="translate(212.1,53.8) rotate(-90)" font-size="12.3" text-anchor="middle" fill="#1a1a1a" font-family="Liberation Serif, serif" textLength="63.7" lengthAdjust="spacingAndGlyphs"><tspan font-style="italic">u</tspan><tspan>(</tspan><tspan font-style="italic">X</tspan><tspan>, </tspan><tspan>19.4</tspan><tspan font-style="italic">λ</tspan><tspan>)</tspan></text>
<text x="114.8" y="297.3" font-size="19.5" font-weight="bold" fill="#111" font-family="Liberation Serif, serif" textLength="23.5" lengthAdjust="spacingAndGlyphs">(a)</text>
<text x="147.5" y="297.8" font-size="13.2" fill="#333" font-family="Liberation Serif, serif" textLength="104.6" lengthAdjust="spacingAndGlyphs">Tip Cell Density</text>
<rect x="408.9" y="7.6" width="278.5" height="224.3" fill="none" stroke="#9a9a9a" stroke-width="1"/>
<path d="M408.9,231.9V229.1M408.9,7.6V10.4M453,231.9V229.1M453,7.6V10.4M497.1,231.9V229.1M497.1,7.6V10.4M541.1,231.9V229.1M541.1,7.6V10.4M585.2,231.9V229.1M585.2,7.6V10.4M629.3,231.9V229.1M629.3,7.6V10.4M673.4,231.9V229.1M673.4,7.6V10.4M408.9,231.9H411.7M687.4,231.9H684.6M408.9,187H411.7M687.4,187H684.6M408.9,142.2H411.7M687.4,142.2H684.6M408.9,97.3H411.7M687.4,97.3H684.6M408.9,52.5H411.7M687.4,52.5H684.6M408.9,7.6H411.7M687.4,7.6H684.6" stroke="#9a9a9a" stroke-width="1" fill="none"/>
<text x="409.1" y="248" font-size="12" text-anchor="middle" fill="#1a1a1a" font-family="Liberation Sans, sans-serif"  letter-spacing="0.35" stroke="#1a1a1a" stroke-width="0.25">0</text>
<text x="453.2" y="248" font-size="12" text-anchor="middle" fill="#1a1a1a" font-family="Liberation Sans, sans-serif"  letter-spacing="0.35" stroke="#1a1a1a" stroke-width="0.25">20</text>
<text x="497.2" y="248" font-size="12" text-anchor="middle" fill="#1a1a1a" font-family="Liberation Sans, sans-serif"  letter-spacing="0.35" stroke="#1a1a1a" stroke-width="0.25">40</text>
<text x="541.3" y="248" font-size="12" text-anchor="middle" fill="#1a1a1a" font-family="Liberation Sans, sans-serif"  letter-spacing="0.35" stroke="#1a1a1a" stroke-width="0.25">60</text>
<text x="585.4" y="248" font-size="12" text-anchor="middle" fill="#1a1a1a" font-family="Liberation Sans, sans-serif"  letter-spacing="0.35" stroke="#1a1a1a" stroke-width="0.25">80</text>
<text x="629.5" y="248" font-size="12" text-anchor="middle" fill="#1a1a1a" font-family="Liberation Sans, sans-serif"  letter-spacing="0.35" stroke="#1a1a1a" stroke-width="0.25">100</text>
<text x="673.6" y="248" font-size="12" text-anchor="middle" fill="#1a1a1a" font-family="Liberation Sans, sans-serif"  letter-spacing="0.35" stroke="#1a1a1a" stroke-width="0.25">120</text>
<text x="404.2" y="236.2" font-size="12" text-anchor="end" fill="#1a1a1a" font-family="Liberation Sans, sans-serif"  letter-spacing="0.35" stroke="#1a1a1a" stroke-width="0.25">0</text>
<text x="404.2" y="191.3" font-size="12" text-anchor="end" fill="#1a1a1a" font-family="Liberation Sans, sans-serif"  letter-spacing="0.35" stroke="#1a1a1a" stroke-width="0.25">5</text>
<text x="404.2" y="146.5" font-size="12" text-anchor="end" fill="#1a1a1a" font-family="Liberation Sans, sans-serif"  letter-spacing="0.35" stroke="#1a1a1a" stroke-width="0.25">10</text>
<text x="404.2" y="101.6" font-size="12" text-anchor="end" fill="#1a1a1a" font-family="Liberation Sans, sans-serif"  letter-spacing="0.35" stroke="#1a1a1a" stroke-width="0.25">15</text>
<text x="404.2" y="56.8" font-size="12" text-anchor="end" fill="#1a1a1a" font-family="Liberation Sans, sans-serif"  letter-spacing="0.35" stroke="#1a1a1a" stroke-width="0.25">20</text>
<text x="404.2" y="11.9" font-size="12" text-anchor="end" fill="#1a1a1a" font-family="Liberation Sans, sans-serif"  letter-spacing="0.35" stroke="#1a1a1a" stroke-width="0.25">25</text>
<path d="M408.9,7.6L409,61.5L409.1,84L409.2,97.4L409.3,106.6L409.5,113.9L409.6,119.7L409.7,124.4L409.8,128.3L409.9,131.7L410,134.7L410.1,137.3L410.2,139.7L410.3,141.9L410.4,144.1L410.6,146.1L410.7,148.1L410.8,149.9L410.9,151.6L411,153.3L411.1,154.9L411.2,156.5L411.3,158L411.4,159.5L411.5,160.9L411.7,162.4L411.8,163.9L411.9,165.3L412,166.8L412.1,168.1L412.2,169.3L412.3,170.5L412.4,171.5L412.5,172.4L412.6,173.2L412.8,174L412.9,174.8L413,175.5L413.1,176.2L413.2,176.9L413.3,177.6L413.9,180.6L414.4,183.1L415,185.1L415.5,186.8L416.1,188.3L416.6,189.7L417.2,190.9L417.7,191.9L418.3,193L418.8,194L419.4,195L419.9,196L420.5,196.9L421,197.9L421.6,198.8L422.1,199.6L422.7,200.3L423.2,201L423.8,201.6L424.3,202.2L424.9,202.8L425.4,203.3L426,203.8L426.5,204.2L427.1,204.6L427.6,205L428.2,205.3L428.7,205.6L429.3,205.9L429.8,206.3L430.4,206.5L430.9,206.8L431.5,207.1L432,207.4L432.6,207.6L433.1,207.9L433.7,208.1L434.2,208.3L434.8,208.5L435.3,208.7L435.9,208.8L436.4,209L437,209.1L437.6,209.2L438.1,209.3L438.7,209.4L439.2,209.5L439.8,209.6L440.3,209.7L440.9,209.8L441.4,209.9L442,210L442.5,210.1L443.1,210.2L443.6,210.2L444.2,210.3L444.7,210.4L445.3,210.4L445.8,210.5L446.4,210.5L446.9,210.6L447.5,210.6L448,210.7L448.6,210.7L449.1,210.7L449.7,210.8L450.2,210.8L450.8,210.8L451.3,210.8L451.9,210.8L452.4,210.8L453,210.8L453.5,210.8L454.1,210.8L454.6,210.8L455.2,210.8L455.7,210.8L456.3,210.8L456.8,210.7L457.4,210.7L457.9,210.7L458.5,210.7L459,210.6L459.6,210.6L460.1,210.5L460.7,210.5L461.2,210.4L461.8,210.4L462.3,210.3L462.9,210.3L463.4,210.2L464,210.1L464.6,210.1L465.1,210L465.7,209.9L466.2,209.8L466.8,209.8L467.3,209.7L467.9,209.6L468.4,209.5L469,209.5L469.5,209.4L470.1,209.3L470.6,209.2L471.2,209.1L471.7,209L472.3,208.9L472.8,208.8L473.4,208.6L473.9,208.5L474.5,208.4L475,208.3L475.6,208.1L476.1,208L476.7,207.9L477.2,207.7L477.8,207.6L478.3,207.4L478.9,207.3L479.4,207.1L480,207L480.5,206.9L481.1,206.7L481.6,206.6L482.2,206.4L482.7,206.3L483.3,206.1L483.8,206L484.4,205.8L484.9,205.7L485.5,205.5L486,205.4L486.6,205.2L487.1,205.1L487.7,204.9L488.2,204.7L488.8,204.6L489.3,204.4L489.9,204.2L490.4,204.1L491,203.9L491.5,203.7L492.1,203.5L492.7,203.4L493.2,203.2L493.8,203L494.3,202.8L494.9,202.6L495.4,202.4L496,202.2L496.5,201.9L497.1,201.7L497.6,201.5L498.2,201.3L498.7,201L499.3,200.8L499.8,200.5L500.4,200.3L500.9,200L501.5,199.8L502,199.5L502.6,199.3L503.1,199L503.7,198.8L504.2,198.5L504.8,198.2L505.3,197.9L505.9,197.7L506.4,197.4L507,197.1L507.5,196.9L508.1,196.6L508.6,196.3L509.2,196.1L509.7,195.8L510.3,195.5L510.8,195.2L511.4,194.9L511.9,194.6L512.5,194.4L513,194.1L513.6,193.8L514.1,193.5L514.7,193.2L515.2,192.9L515.8,192.6L516.3,192.3L516.9,192L517.4,191.6L518,191.3L518.5,191L519.1,190.7L519.7,190.3L520.2,190L520.8,189.7L521.3,189.3L521.9,189L522.4,188.6L523,188.3L523.5,187.9L524.1,187.5L524.6,187.1L525.2,186.7L525.7,186.3L526.3,185.9L526.8,185.5L527.4,185.1L527.9,184.7L528.5,184.3L529,183.9L529.6,183.5L530.1,183.1L530.7,182.7L531.2,182.3L531.8,181.9L532.3,181.6L532.9,181.2L533.4,180.8L534,180.4L534.5,180L535.1,179.7L535.6,179.3L536.2,178.9L536.7,178.6L537.3,178.2L537.8,177.8L538.4,177.5L538.9,177.1L539.5,176.7L540,176.4L540.6,176L541.1,175.7L541.7,175.3L542.2,175L542.8,174.6L543.3,174.3L543.9,173.9L544.4,173.6L545,173.2L545.5,172.9L546.1,172.6L546.6,172.3L547.2,171.9L547.8,171.6L548.3,171.3L548.9,171L549.4,170.7L550,170.4L550.5,170.1L551.1,169.8L551.6,169.4L552.2,169.1L552.7,168.8L553.3,168.4L553.8,168.1L554.4,167.7L554.9,167.4L555.5,167L556,166.6L556.6,166.3L557.1,165.9L557.7,165.5L558.2,165.2L558.8,164.8L559.3,164.4L559.9,164L560.4,163.6L561,163.3L561.5,162.9L562.1,162.5L562.6,162.1L563.2,161.7L563.7,161.3L564.3,161L564.8,160.6L565.4,160.2L565.9,159.8L566.5,159.5L567,159.1L567.6,158.7L568.1,158.4L568.7,158L569.2,157.7L569.8,157.3L570.3,157L570.9,156.6L571.4,156.3L572,156L572.5,155.7L573.1,155.4L573.6,155L574.2,154.7L574.8,154.4L575.3,154.1L575.9,153.8L576.4,153.5L577,153.2L577.5,152.9L578.1,152.6L578.6,152.3L579.2,152L579.7,151.8L580.3,151.5L580.8,151.2L581.4,150.9L581.9,150.6L582.5,150.3L583,150L583.6,149.8L584.1,149.5L584.7,149.2L585.2,148.9L585.8,148.6L586.3,148.4L586.9,148.1L587.4,147.8L588,147.5L588.5,147.3L589.1,147L589.6,146.7L590.2,146.4L590.7,146.1L591.3,145.8L591.8,145.6L592.4,145.3L592.9,145L593.5,144.7L594,144.4L594.6,144.1L595.1,143.8L595.7,143.6L596.2,143.3L596.8,143L597.3,142.7L597.9,142.4L598.4,142.1L599,141.8L599.5,141.5L600.1,141.3L600.6,141L601.2,140.7L601.8,140.4L602.3,140.1L602.9,139.8L603.4,139.5L604,139.3L604.5,139L605.1,138.7L605.6,138.4L606.2,138.1L606.7,137.8L607.3,137.6L607.8,137.3L608.4,137L608.9,136.7L609.5,136.4L610,136.1L610.6,135.8L611.1,135.6L611.7,135.3L612.2,135L612.8,134.7L613.3,134.4L613.9,134.1L614.4,133.9L615,133.6L615.5,133.3L616.1,133L616.6,132.7L617.2,132.4L617.7,132.2L618.3,131.9L618.8,131.6L619.4,131.3L619.9,131L620.5,130.7L621,130.4L621.6,130.2L622.1,129.9L622.7,129.6L623.2,129.3L623.8,129L624.3,128.7L624.9,128.4L625.4,128.2L626,127.9L626.5,127.6L627.1,127.3L627.6,127L628,126.8M409.2,94.4L409.4,114L409.7,125.9L409.9,134.3L410.2,141.6L410.4,149.8L410.7,160.3L410.9,173.5L411.2,188L411.4,201.9L411.7,213.5L411.9,221.9L412.2,227L412.4,229.7L412.7,230.9L412.9,231.5M424.4,202.3L424.6,202.6L424.9,202.8L425.1,203.1L425.4,203.4L425.6,203.7L425.9,204.2L426.1,204.8L426.4,205.6L426.6,206.6L426.9,207.7L427.1,208.9L427.4,210.1L427.6,211.3L427.9,212.5L428.1,213.7L428.4,214.8L428.6,216L428.9,217.1L429.1,218.3L429.4,219.4L429.6,220.5L429.9,221.6L430.1,222.6L430.4,223.7L430.6,224.7L430.9,225.7L431.1,226.7L431.4,227.6L431.6,228.5L431.9,229.3L432.1,230L432.4,230.5L432.6,231L432.9,231.3L433.1,231.5L433.4,231.7L433.6,231.7L433.9,231.8L434.1,231.8L434.4,231.9M440.9,209.8L441.1,209.9L441.4,209.9L441.6,210L441.9,210L442.1,210.1L442.4,210.1L442.6,210.2L442.9,210.3L443.1,210.5L443.4,210.6L443.6,210.9L443.9,211.3L444.1,211.7L444.4,212.2L444.6,212.8L444.9,213.4L445.1,214.1L445.4,214.8L445.6,215.5L445.9,216.2L446.1,216.9L446.4,217.6L446.6,218.3L446.9,219L447.1,219.7L447.4,220.4L447.6,221.1L447.9,221.8L448.1,222.5L448.4,223.2L448.6,223.9L448.9,224.6L449.1,225.3L449.4,226L449.6,226.6L449.9,227.3L450.1,227.9L450.4,228.5L450.6,229L450.9,229.5L451.1,230L451.4,230.4L451.6,230.7L451.9,231L452.1,231.3L452.4,231.4L452.6,231.6L452.9,231.7L453.1,231.7L453.4,231.8L453.6,231.8L453.9,231.8L454.1,231.9M457.9,210.7L458.1,210.7L458.4,210.7L458.6,210.7L458.9,210.7L459.1,210.6L459.4,210.6L459.6,210.6L459.9,210.7L460.1,210.7L460.4,210.7L460.6,210.8L460.9,210.9L461.1,211.1L461.4,211.3L461.6,211.6L461.9,211.9L462.1,212.3L462.4,212.8L462.6,213.2L462.9,213.8L463.1,214.3L463.4,214.8L463.6,215.4L463.9,216L464.1,216.5L464.4,217.1L464.6,217.7L464.9,218.3L465.1,218.9L465.4,219.5L465.6,220L465.9,220.6L466.1,221.2L466.4,221.8L466.6,222.4L466.9,223L467.1,223.6L467.4,224.2L467.6,224.8L467.9,225.4L468.1,226L468.4,226.5L468.6,227.1L468.9,227.7L469.1,228.2L469.4,228.7L469.6,229.2L469.9,229.6L470.1,230L470.4,230.4L470.6,230.7L470.9,230.9L471.1,231.2L471.4,231.3L471.6,231.5L471.9,231.6L472.1,231.7L472.4,231.7L472.6,231.8L472.9,231.8L473.1,231.8L473.4,231.8L473.6,231.9M474.6,208.4L474.9,208.3L475.1,208.2L475.4,208.2L475.6,208.1L475.9,208.1L476.1,208L476.4,208L476.6,207.9L476.9,207.9L477.1,207.8L477.4,207.8L477.6,207.8L477.9,207.7L478.1,207.7L478.4,207.8L478.6,207.8L478.9,207.9L479.1,207.9L479.4,208.1L479.6,208.2L479.9,208.5L480.1,208.7L480.4,209L480.6,209.4L480.9,209.8L481.1,210.2L481.4,210.7L481.6,211.2L481.9,211.7L482.1,212.2L482.4,212.8L482.6,213.4L482.9,214L483.1,214.6L483.4,215.2L483.6,215.8L483.9,216.4L484.1,217L484.4,217.7L484.6,218.3L484.9,218.9L485.1,219.6L485.4,220.2L485.6,220.9L485.9,221.5L486.1,222.2L486.4,222.8L486.6,223.5L486.9,224.1L487.1,224.8L487.4,225.4L487.6,226L487.9,226.6L488.1,227.2L488.4,227.8L488.6,228.3L488.9,228.8L489.1,229.3L489.4,229.7L489.6,230.1L489.9,230.4L490.1,230.7L490.4,231L490.6,231.2L490.9,231.3L491.1,231.4L491.4,231.5L491.6,231.6L491.9,231.7L492.1,231.7L492.4,231.8L492.6,231.8L492.9,231.8L493.1,231.8M491.3,203.8L491.6,203.7L491.8,203.6L492.1,203.6L492.3,203.5L492.6,203.4L492.8,203.3L493.1,203.3L493.3,203.2L493.6,203.1L493.8,203L494.1,202.9L494.3,202.9L494.6,202.8L494.8,202.7L495.1,202.7L495.3,202.6L495.6,202.6L495.8,202.6L496.1,202.5L496.3,202.5L496.6,202.5L496.8,202.6L497.1,202.6L497.3,202.7L497.6,202.8L497.8,203L498.1,203.2L498.3,203.4L498.6,203.6L498.8,203.9L499.1,204.3L499.3,204.7L499.6,205.1L499.8,205.5L500.1,206L500.3,206.5L500.6,207.1L500.8,207.6L501.1,208.2L501.3,208.8L501.6,209.5L501.8,210.1L502.1,210.8L502.3,211.4L502.6,212.1L502.8,212.8L503.1,213.5L503.3,214.2L503.6,214.9L503.8,215.6L504.1,216.4L504.3,217.1L504.6,217.9L504.8,218.6L505.1,219.4L505.3,220.1L505.6,220.9L505.8,221.6L506.1,222.4L506.3,223.1L506.6,223.9L506.8,224.6L507.1,225.4L507.3,226.1L507.6,226.7L507.8,227.4L508.1,228L508.3,228.6L508.6,229.1L508.8,229.6L509.1,230L509.3,230.4L509.6,230.7L509.8,230.9L510.1,231.1L510.3,231.3L510.6,231.4L510.8,231.5L511.1,231.6L511.3,231.7L511.6,231.7L511.8,231.8L512,231.8L512.3,231.8M507.2,197L507.5,196.9L507.7,196.8L508,196.7L508.2,196.6L508.5,196.4L508.7,196.3L509,196.2L509.2,196.1L509.5,196L509.7,195.8L510,195.7L510.2,195.6L510.5,195.5L510.7,195.4L511,195.3L511.2,195.2L511.5,195.1L511.7,195L512,194.9L512.2,194.8L512.5,194.7L512.7,194.6L513,194.6L513.2,194.5L513.5,194.4L513.7,194.4L514,194.4L514.2,194.4L514.5,194.4L514.7,194.4L515,194.5L515.2,194.6L515.5,194.7L515.7,194.8L516,195L516.2,195.2L516.5,195.4L516.7,195.6L517,195.9L517.2,196.3L517.5,196.6L517.7,197L518,197.5L518.2,198L518.5,198.5L518.7,199L519,199.6L519.2,200.1L519.5,200.8L519.7,201.4L520,202L520.2,202.7L520.5,203.4L520.7,204.1L521,204.9L521.2,205.6L521.5,206.4L521.7,207.1L522,207.9L522.2,208.7L522.5,209.5L522.7,210.3L523,211.1L523.2,212L523.5,212.8L523.7,213.6L524,214.5L524.2,215.3L524.5,216.2L524.7,217.1L525,218L525.2,218.8L525.5,219.7L525.7,220.6L526,221.5L526.2,222.3L526.5,223.2L526.7,224.1L527,224.9L527.2,225.7L527.5,226.5L527.7,227.2L528,227.9L528.2,228.5L528.5,229.1L528.7,229.6L529,230L529.2,230.4L529.5,230.7L529.7,230.9L530,231.2L530.2,231.3L530.5,231.5L530.7,231.6L531,231.6L531.2,231.7L531.5,231.7L531.7,231.8L532,231.8M520.4,190.1L520.7,189.9L520.9,189.8L521.2,189.7L521.4,189.5L521.7,189.4L521.9,189.2L522.2,189.1L522.4,188.9L522.7,188.8L522.9,188.6L523.2,188.5L523.4,188.4L523.7,188.2L523.9,188.1L524.2,187.9L524.4,187.8L524.7,187.6L524.9,187.5L525.2,187.3L525.4,187.2L525.7,187.1L525.9,186.9L526.2,186.8L526.4,186.7L526.7,186.5L526.9,186.4L527.2,186.3L527.4,186.2L527.7,186L527.9,185.9L528.2,185.8L528.4,185.7L528.7,185.6L528.9,185.5L529.2,185.4L529.4,185.3L529.7,185.2L529.9,185.2L530.2,185.1L530.4,185L530.7,185L530.9,184.9L531.2,184.9L531.4,184.9L531.7,184.8L531.9,184.8L532.2,184.8L532.4,184.8L532.7,184.8L532.9,184.9L533.2,184.9L533.4,185L533.7,185.1L533.9,185.1L534.2,185.2L534.4,185.3L534.7,185.5L534.9,185.6L535.2,185.8L535.4,186L535.7,186.1L535.9,186.4L536.2,186.6L536.4,186.8L536.7,187.1L536.9,187.4L537.2,187.7L537.4,188.1L537.7,188.4L537.9,188.8L538.2,189.3L538.4,189.7L538.7,190.2L538.9,190.7L539.2,191.2L539.4,191.8L539.7,192.4L539.9,193L540.2,193.6L540.4,194.3L540.7,195.1L540.9,195.8L541.2,196.6L541.4,197.4L541.7,198.2L541.9,199.1L542.2,200L542.4,201L542.7,201.9L542.9,202.9L543.2,203.9L543.4,205L543.7,206L543.9,207.1L544.2,208.2L544.4,209.3L544.7,210.4L544.9,211.5L545.2,212.6L545.4,213.8L545.7,214.9L545.9,216L546.2,217.1L546.4,218.2L546.7,219.2L546.9,220.3L547.2,221.2L547.4,222.2L547.7,223.1L547.9,224L548.2,224.9L548.4,225.6L548.7,226.4L548.9,227.1L549.2,227.7L549.4,228.3L549.7,228.8L549.9,229.3L550.2,229.7L550.4,230.1L550.7,230.4L550.9,230.7L551.2,230.9L551.4,231.1L551.7,231.3L551.9,231.4L552.2,231.5L552.4,231.6L552.7,231.7L552.9,231.8L553.2,231.8L553.4,231.8L553.7,231.9M538.9,177.4L539.1,177.3L539.4,177.1L539.6,177L539.9,176.8L540.1,176.7L540.4,176.6L540.6,176.4L540.9,176.3L541.1,176.1L541.4,176L541.6,175.9L541.9,175.7L542.1,175.6L542.4,175.5L542.6,175.3L542.9,175.2L543.1,175.1L543.4,175L543.6,174.9L543.9,174.8L544.1,174.6L544.4,174.5L544.6,174.4L544.9,174.3L545.1,174.2L545.4,174.1L545.6,174L545.9,174L546.1,173.9L546.4,173.8L546.6,173.7L546.9,173.7L547.1,173.6L547.4,173.6L547.6,173.5L547.9,173.5L548.1,173.4L548.4,173.4L548.6,173.4L548.9,173.3L549.1,173.3L549.4,173.3L549.6,173.3L549.9,173.3L550.1,173.4L550.4,173.4L550.6,173.4L550.9,173.4L551.1,173.5L551.4,173.5L551.6,173.6L551.9,173.7L552.1,173.8L552.4,173.9L552.6,174L552.9,174.1L553.1,174.2L553.4,174.4L553.6,174.5L553.9,174.7L554.1,174.9L554.4,175.1L554.6,175.3L554.9,175.6L555.1,175.8L555.4,176.1L555.6,176.4L555.9,176.7L556.1,177.1L556.4,177.4L556.6,177.8L556.9,178.2L557.1,178.7L557.4,179.1L557.6,179.6L557.9,180.1L558.1,180.7L558.4,181.3L558.6,181.9L558.9,182.5L559.1,183.2L559.4,183.9L559.6,184.6L559.9,185.4L560.1,186.2L560.4,187L560.6,187.9L560.9,188.8L561.1,189.8L561.4,190.7L561.6,191.7L561.9,192.8L562.1,193.8L562.4,194.9L562.6,196.1L562.9,197.2L563.1,198.4L563.4,199.6L563.6,200.8L563.9,202.1L564.1,203.3L564.4,204.6L564.6,205.9L564.9,207.2L565.1,208.5L565.4,209.8L565.6,211L565.9,212.3L566.1,213.6L566.4,214.8L566.6,216L566.9,217.2L567.1,218.4L567.4,219.5L567.6,220.6L567.9,221.6L568.1,222.6L568.4,223.6L568.6,224.5L568.9,225.3L569.1,226.1L569.4,226.8L569.6,227.5L569.9,228.1L570.1,228.6L570.4,229.1L570.6,229.6L570.9,229.9L571.1,230.3L571.4,230.6L571.6,230.8L571.9,231L572.1,231.2L572.4,231.4L572.6,231.5L572.9,231.6L573.1,231.7L573.4,231.7L573.6,231.8L573.9,231.8L574.1,231.8M560.6,163.9L560.8,163.7L561.1,163.6L561.3,163.4L561.6,163.3L561.8,163.1L562.1,163L562.3,162.8L562.6,162.7L562.8,162.5L563.1,162.4L563.3,162.3L563.6,162.1L563.8,162L564.1,161.9L564.3,161.7L564.6,161.6L564.8,161.5L565.1,161.4L565.3,161.3L565.6,161.1L565.8,161L566.1,160.9L566.3,160.8L566.6,160.7L566.8,160.6L567.1,160.6L567.3,160.5L567.6,160.4L567.8,160.3L568.1,160.3L568.3,160.2L568.6,160.2L568.8,160.1L569.1,160.1L569.3,160.1L569.6,160L569.8,160L570.1,160L570.3,160L570.6,160.1L570.8,160.1L571.1,160.1L571.3,160.2L571.6,160.2L571.8,160.3L572.1,160.4L572.3,160.5L572.6,160.6L572.8,160.8L573.1,160.9L573.3,161.1L573.6,161.3L573.8,161.5L574.1,161.7L574.3,161.9L574.6,162.2L574.8,162.5L575.1,162.8L575.3,163.1L575.6,163.4L575.8,163.8L576.1,164.2L576.3,164.6L576.6,165.1L576.8,165.5L577.1,166.1L577.3,166.6L577.6,167.2L577.8,167.8L578.1,168.4L578.3,169.1L578.6,169.8L578.8,170.6L579.1,171.4L579.3,172.2L579.6,173L579.8,174L580.1,174.9L580.3,175.9L580.6,176.9L580.8,178L581.1,179.1L581.3,180.3L581.6,181.5L581.8,182.7L582.1,184L582.3,185.3L582.6,186.7L582.8,188.1L583.1,189.5L583.3,190.9L583.6,192.4L583.8,194L584.1,195.5L584.3,197.1L584.6,198.7L584.8,200.3L585.1,201.9L585.3,203.5L585.6,205.1L585.8,206.7L586.1,208.3L586.3,209.8L586.6,211.4L586.8,212.9L587.1,214.4L587.3,215.8L587.6,217.2L587.8,218.6L588.1,219.8L588.3,221.1L588.6,222.2L588.8,223.3L589.1,224.3L589.3,225.3L589.6,226.1L589.8,226.9L590.1,227.7L590.3,228.3L590.6,228.9L590.8,229.4L591.1,229.8L591.3,230.2L591.6,230.6L591.8,230.8L592.1,231.1L592.3,231.2L592.6,231.4L592.8,231.5L593.1,231.6L593.3,231.7L593.6,231.8L593.8,231.8L594.1,231.8M582.4,150.8L582.7,150.6L582.9,150.5L583.2,150.4L583.4,150.3L583.7,150.2L583.9,150.1L584.2,150.1L584.4,150L584.7,149.9L584.9,149.8L585.2,149.7L585.4,149.6L585.7,149.5L585.9,149.5L586.2,149.4L586.4,149.3L586.7,149.2L586.9,149.2L587.2,149.1L587.4,149L587.7,149L587.9,148.9L588.2,148.9L588.4,148.9L588.7,148.8L588.9,148.8L589.2,148.8L589.4,148.7L589.7,148.7L589.9,148.7L590.2,148.7L590.4,148.7L590.7,148.7L590.9,148.7L591.2,148.8L591.4,148.8L591.7,148.8L591.9,148.9L592.2,148.9L592.4,149L592.7,149.1L592.9,149.2L593.2,149.3L593.4,149.4L593.7,149.6L593.9,149.7L594.2,149.9L594.4,150L594.7,150.2L594.9,150.4L595.2,150.7L595.4,150.9L595.7,151.2L595.9,151.5L596.2,151.8L596.4,152.1L596.7,152.5L596.9,152.9L597.2,153.3L597.4,153.7L597.7,154.2L597.9,154.7L598.2,155.2L598.4,155.8L598.7,156.4L598.9,157L599.2,157.7L599.4,158.4L599.7,159.1L599.9,159.9L600.2,160.7L600.4,161.5L600.7,162.4L600.9,163.4L601.2,164.4L601.4,165.4L601.7,166.5L601.9,167.6L602.2,168.8L602.4,170L602.7,171.3L602.9,172.6L603.2,174L603.4,175.4L603.7,176.9L603.9,178.4L604.2,179.9L604.4,181.5L604.7,183.2L604.9,184.8L605.2,186.5L605.4,188.3L605.7,190L605.9,191.8L606.2,193.6L606.4,195.5L606.7,197.3L606.9,199.2L607.2,201L607.4,202.8L607.7,204.7L607.9,206.5L608.2,208.2L608.4,210L608.7,211.7L608.9,213.4L609.2,215L609.4,216.5L609.7,218L609.9,219.4L610.2,220.7L610.4,222L610.7,223.2L610.9,224.3L611.2,225.3L611.4,226.2L611.7,227L611.9,227.8L612.2,228.4L612.4,229L612.7,229.5L612.9,230L613.2,230.4L613.4,230.7L613.7,230.9L613.9,231.2L614.2,231.3L614.4,231.5L614.7,231.6L614.9,231.7L615.2,231.7L615.4,231.8L615.7,231.8M603.7,139.9L603.9,139.8L604.2,139.7L604.4,139.6L604.7,139.5L604.9,139.4L605.2,139.3L605.4,139.2L605.7,139.1L605.9,139L606.2,139L606.4,138.9L606.7,138.8L606.9,138.7L607.2,138.7L607.4,138.6L607.7,138.5L607.9,138.5L608.2,138.4L608.4,138.4L608.7,138.3L608.9,138.3L609.2,138.3L609.4,138.3L609.7,138.2L609.9,138.2L610.2,138.2L610.4,138.2L610.7,138.2L610.9,138.3L611.2,138.3L611.4,138.3L611.7,138.4L611.9,138.4L612.2,138.5L612.4,138.6L612.7,138.7L612.9,138.8L613.2,138.9L613.4,139.1L613.7,139.2L613.9,139.4L614.2,139.6L614.4,139.8L614.7,140L614.9,140.2L615.2,140.5L615.4,140.8L615.7,141.1L615.9,141.4L616.2,141.8L616.4,142.2L616.7,142.6L616.9,143.1L617.2,143.6L617.4,144.1L617.7,144.6L617.9,145.2L618.2,145.8L618.4,146.5L618.7,147.2L618.9,148L619.2,148.7L619.4,149.6L619.7,150.5L619.9,151.4L620.2,152.4L620.4,153.4L620.7,154.5L620.9,155.7L621.2,156.9L621.4,158.2L621.7,159.5L621.9,160.9L622.2,162.3L622.4,163.8L622.7,165.4L622.9,167L623.2,168.7L623.4,170.4L623.7,172.2L623.9,174.1L624.2,176L624.4,178L624.7,180L624.9,182L625.2,184.1L625.4,186.2L625.7,188.4L625.9,190.6L626.2,192.7L626.4,194.9L626.7,197.1L626.9,199.3L627.2,201.5L627.4,203.7L627.7,205.8L627.9,207.9L628.2,209.9L628.4,211.8L628.7,213.7L628.9,215.5L629.2,217.3L629.4,218.9L629.7,220.4L629.9,221.9L630.2,223.2L630.4,224.4L630.7,225.5L630.9,226.5L631.2,227.4L631.4,228.2L631.7,228.8L631.9,229.4L632.2,229.9L632.4,230.3L632.7,230.7L632.9,231L633.2,231.2L633.4,231.4L633.7,231.5L633.9,231.6L634.2,231.7L634.4,231.8L634.7,231.8M628,127.3L628.3,127.3L628.5,127.2L628.8,127.1L629,127L629.3,126.9L629.5,126.8L629.8,126.8L630,126.7L630.3,126.6L630.5,126.6L630.8,126.5L631,126.5L631.3,126.4L631.5,126.4L631.8,126.3L632,126.3L632.3,126.3L632.5,126.2L632.8,126.2L633,126.2L633.3,126.2L633.5,126.3L633.8,126.3L634,126.3L634.3,126.4L634.5,126.4L634.8,126.5L635,126.6L635.3,126.7L635.5,126.8L635.8,126.9L636,127L636.3,127.2L636.5,127.4L636.8,127.6L637,127.8L637.3,128L637.5,128.3L637.8,128.6L638,128.9L638.3,129.2L638.5,129.6L638.8,130L639,130.4L639.3,130.9L639.5,131.3L639.8,131.9L640,132.5L640.3,133.1L640.5,133.7L640.8,134.5L641,135.2L641.3,136L641.5,136.9L641.8,137.8L642,138.8L642.3,139.8L642.5,140.9L642.8,142.1L643,143.3L643.3,144.6L643.5,146L643.8,147.4L644,148.9L644.3,150.5L644.5,152.2L644.8,154L645,155.8L645.3,157.7L645.5,159.7L645.8,161.8L646,163.9L646.3,166.1L646.5,168.4L646.8,170.8L647,173.2L647.3,175.7L647.5,178.3L647.8,180.8L648,183.5L648.3,186.1L648.5,188.8L648.8,191.5L649,194.2L649.3,196.8L649.5,199.5L649.8,202.1L650,204.6L650.3,207.1L650.5,209.5L650.8,211.8L651,214L651.3,216.1L651.5,218L651.8,219.8L652,221.5L652.3,223L652.5,224.4L652.8,225.7L653,226.8L653.3,227.7L653.5,228.6L653.8,229.3L654,229.8L654.3,230.3L654.5,230.7L654.8,231L655,231.3L655.3,231.5L655.5,231.6L655.8,231.7L656,231.8L656.3,231.8M408.9,231.9H687.4" stroke="#ff0000" stroke-width="1.1" stroke-dasharray="5,3" fill="none"/>
<path d="M408.9,7.6L409,61.4L409.1,83.9L409.2,97.3L409.3,106.5L409.5,113.8L409.6,119.6L409.7,124.3L409.8,128.2L409.9,131.6L410,134.5L410.1,137.2L410.2,139.5L410.3,141.8L410.4,143.9L410.6,146L410.7,147.9L410.8,149.7L410.9,151.5L411,153.1L411.1,154.7L411.2,156.3L411.3,157.8L411.4,159.2L411.5,160.7L411.7,162.2L411.8,163.7L411.9,165.1L412,166.5L412.1,167.9L412.2,169.1L412.3,170.2L412.4,171.3L412.5,172.1L412.6,172.9L412.8,173.7L412.9,174.5L413,175.2L413.1,175.9L413.2,176.6L413.3,177.3L413.9,180.3L414.4,182.8L415,184.8L415.5,186.5L416.1,188L416.6,189.3L417.2,190.5L417.7,191.5L418.3,192.6L418.8,193.5L419.4,194.5L419.9,195.5L420.5,196.5L421,197.4L421.6,198.3L422.1,199.1L422.7,199.8L423.2,200.5L423.8,201.2L424.3,201.8L424.9,202.3L425.4,202.9L426,203.4L426.5,203.8L427.1,204.2L427.6,204.6L428.2,204.9L428.7,205.2L429.3,205.6L429.8,205.9L430.4,206.2L430.9,206.5L431.5,206.7L432,207L432.6,207.2L433.1,207.5L433.7,207.7L434.2,207.9L434.8,208.1L435.3,208.3L435.9,208.5L436.4,208.6L437,208.8L437.6,208.9L438.1,209L438.7,209.1L439.2,209.2L439.8,209.3L440.3,209.4L440.9,209.5L441.4,209.6L442,209.7L442.5,209.7L443.1,209.8L443.6,209.9L444.2,210L444.7,210L445.3,210.1L445.8,210.2L446.4,210.2L446.9,210.3L447.5,210.3L448,210.4L448.6,210.4L449.1,210.4L449.7,210.4L450.2,210.4L450.8,210.5L451.3,210.5L451.9,210.5L452.4,210.5L453,210.5L453.5,210.5L454.1,210.5L454.6,210.5L455.2,210.5L455.7,210.5L456.3,210.4L456.8,210.4L457.4,210.4L457.9,210.4L458.5,210.3L459,210.3L459.6,210.3L460.1,210.2L460.7,210.2L461.2,210.1L461.8,210.1L462.3,210L462.9,209.9L463.4,209.9L464,209.8L464.6,209.7L465.1,209.6L465.7,209.6L466.2,209.5L466.8,209.4L467.3,209.3L467.9,209.3L468.4,209.2L469,209.1L469.5,209L470.1,208.9L470.6,208.9L471.2,208.7L471.7,208.6L472.3,208.5L472.8,208.4L473.4,208.3L473.9,208.2L474.5,208L475,207.9L475.6,207.8L476.1,207.6L476.7,207.5L477.2,207.3L477.8,207.2L478.3,207.1L478.9,206.9L479.4,206.8L480,206.6L480.5,206.5L481.1,206.3L481.6,206.2L482.2,206L482.7,205.9L483.3,205.7L483.8,205.6L484.4,205.4L484.9,205.3L485.5,205.1L486,205L486.6,204.8L487.1,204.7L487.7,204.5L488.2,204.3L488.8,204.2L489.3,204L489.9,203.8L490.4,203.6L491,203.5L491.5,203.3L492.1,203.1L492.7,202.9L493.2,202.7L493.8,202.5L494.3,202.3L494.9,202.1L495.4,201.9L496,201.7L496.5,201.5L497.1,201.3L497.6,201L498.2,200.8L498.7,200.6L499.3,200.3L499.8,200.1L500.4,199.8L500.9,199.6L501.5,199.3L502,199L502.6,198.8L503.1,198.5L503.7,198.2L504.2,198L504.8,197.7L505.3,197.4L505.9,197.2L506.4,196.9L507,196.6L507.5,196.3L508.1,196.1L508.6,195.8L509.2,195.5L509.7,195.2L510.3,194.9L510.8,194.7L511.4,194.4L511.9,194.1L512.5,193.8L513,193.5L513.6,193.2L514.1,192.9L514.7,192.6L515.2,192.3L515.8,192L516.3,191.7L516.9,191.3L517.4,191L518,190.7L518.5,190.4L519.1,190L519.7,189.7L520.2,189.4L520.8,189L521.3,188.7L521.9,188.3L522.4,188L523,187.6L523.5,187.2L524.1,186.8L524.6,186.4L525.2,186L525.7,185.6L526.3,185.2L526.8,184.8L527.4,184.4L527.9,184L528.5,183.6L529,183.2L529.6,182.8L530.1,182.4L530.7,182L531.2,181.6L531.8,181.2L532.3,180.8L532.9,180.4L533.4,180L534,179.6L534.5,179.3L535.1,178.9L535.6,178.5L536.2,178.1L536.7,177.8L537.3,177.4L537.8,177L538.4,176.6L538.9,176.3L539.5,175.9L540,175.5L540.6,175.2L541.1,174.8L541.7,174.5L542.2,174.1L542.8,173.7L543.3,173.4L543.9,173L544.4,172.7L545,172.4L545.5,172L546.1,171.7L546.6,171.4L547.2,171L547.8,170.7L548.3,170.4L548.9,170.1L549.4,169.8L550,169.5L550.5,169.1L551.1,168.8L551.6,168.5L552.2,168.2L552.7,167.8L553.3,167.5L553.8,167.1L554.4,166.8L554.9,166.4L555.5,166L556,165.7L556.6,165.3L557.1,164.9L557.7,164.5L558.2,164.1L558.8,163.8L559.3,163.4L559.9,163L560.4,162.6L561,162.2L561.5,161.8L562.1,161.4L562.6,161L563.2,160.7L563.7,160.3L564.3,159.9L564.8,159.5L565.4,159.1L565.9,158.7L566.5,158.4L567,158L567.6,157.6L568.1,157.3L568.7,156.9L569.2,156.5L569.8,156.2L570.3,155.8L570.9,155.5L571.4,155.2L572,154.8L572.5,154.5L573.1,154.2L573.6,153.9L574.2,153.6L574.8,153.2L575.3,152.9L575.9,152.6L576.4,152.3L577,152L577.5,151.7L578.1,151.4L578.6,151.1L579.2,150.8L579.7,150.5L580.3,150.2L580.8,149.9L581.4,149.7L581.9,149.4L582.5,149.1L583,148.8L583.6,148.5L584.1,148.2L584.7,147.9L585.2,147.7L585.8,147.4L586.3,147.1L586.9,146.8L587.4,146.5L588,146.2L588.5,146L589.1,145.7L589.6,145.4L590.2,145.1L590.7,144.8L591.3,144.5L591.8,144.2L592.4,144L592.9,143.7L593.5,143.4L594,143.1L594.6,142.8L595.1,142.5L595.7,142.2L596.2,141.9L596.8,141.6L597.3,141.3L597.9,141L598.4,140.8L599,140.5L599.5,140.2L600.1,139.9L600.6,139.6L601.2,139.3L601.8,139L602.3,138.7L602.9,138.4L603.4,138.1L604,137.9L604.5,137.6L605.1,137.3L605.6,137L606.2,136.7L606.7,136.4L607.3,136.1L607.8,135.8L608.4,135.5L608.9,135.2L609.5,135L610,134.7L610.6,134.4L611.1,134.1L611.7,133.8L612.2,133.5L612.8,133.2L613.3,132.9L613.9,132.7L614.4,132.4L615,132.1L615.5,131.8L616.1,131.5L616.6,131.2L617.2,130.9L617.7,130.6L618.3,130.3L618.8,130.1L619.4,129.8L619.9,129.5L620.5,129.2L621,128.9L621.6,128.6L622.1,128.3L622.7,128L623.2,127.7L623.8,127.4L624.3,127.2L624.9,126.9L625.4,126.6L626,126.3L626.5,126L627.1,125.7L627.6,125.4L628,125.2M409.2,94.3L409.4,113.9L409.7,125.8L409.9,134.1L410.2,141.5L410.4,149.6L410.7,160.2L410.9,173.4L411.2,187.9L411.4,201.8L411.7,213.5L411.9,221.9L412.2,227L412.4,229.7L412.7,230.9L412.9,231.5M424.4,201.8L424.6,202.1L424.9,202.4L425.1,202.6L425.4,202.9L425.6,203.3L425.9,203.7L426.1,204.4L426.4,205.2L426.6,206.2L426.9,207.4L427.1,208.5L427.4,209.8L427.6,211L427.9,212.2L428.1,213.4L428.4,214.6L428.6,215.7L428.9,216.9L429.1,218L429.4,219.2L429.6,220.3L429.9,221.4L430.1,222.5L430.4,223.6L430.6,224.6L430.9,225.6L431.1,226.6L431.4,227.6L431.6,228.5L431.9,229.3L432.1,229.9L432.4,230.5L432.6,231L432.9,231.3L433.1,231.5L433.4,231.7L433.6,231.7L433.9,231.8L434.1,231.8L434.4,231.9M440.9,209.5L441.1,209.5L441.4,209.6L441.6,209.6L441.9,209.7L442.1,209.7L442.4,209.8L442.6,209.9L442.9,210L443.1,210.1L443.4,210.3L443.6,210.6L443.9,210.9L444.1,211.4L444.4,211.9L444.6,212.5L444.9,213.1L445.1,213.8L445.4,214.5L445.6,215.2L445.9,215.9L446.1,216.6L446.4,217.4L446.6,218.1L446.9,218.8L447.1,219.5L447.4,220.2L447.6,221L447.9,221.7L448.1,222.4L448.4,223.1L448.6,223.8L448.9,224.5L449.1,225.2L449.4,225.9L449.6,226.5L449.9,227.2L450.1,227.8L450.4,228.4L450.6,229L450.9,229.5L451.1,230L451.4,230.4L451.6,230.7L451.9,231L452.1,231.2L452.4,231.4L452.6,231.6L452.9,231.6L453.1,231.7L453.4,231.8L453.6,231.8L453.9,231.8L454.1,231.9M457.9,210.4L458.1,210.4L458.4,210.4L458.6,210.3L458.9,210.3L459.1,210.3L459.4,210.3L459.6,210.3L459.9,210.3L460.1,210.4L460.4,210.4L460.6,210.5L460.9,210.6L461.1,210.8L461.4,211L461.6,211.3L461.9,211.6L462.1,212L462.4,212.5L462.6,213L462.9,213.5L463.1,214L463.4,214.6L463.6,215.1L463.9,215.7L464.1,216.3L464.4,216.9L464.6,217.5L464.9,218.1L465.1,218.7L465.4,219.3L465.6,219.9L465.9,220.5L466.1,221.1L466.4,221.7L466.6,222.3L466.9,222.9L467.1,223.5L467.4,224.1L467.6,224.7L467.9,225.3L468.1,225.9L468.4,226.5L468.6,227L468.9,227.6L469.1,228.1L469.4,228.7L469.6,229.1L469.9,229.6L470.1,230L470.4,230.4L470.6,230.7L470.9,230.9L471.1,231.1L471.4,231.3L471.6,231.5L471.9,231.6L472.1,231.7L472.4,231.7L472.6,231.8L472.9,231.8L473.1,231.8L473.4,231.8L473.6,231.9M474.6,208L474.9,207.9L475.1,207.9L475.4,207.8L475.6,207.8L475.9,207.7L476.1,207.7L476.4,207.6L476.6,207.6L476.9,207.5L477.1,207.5L477.4,207.4L477.6,207.4L477.9,207.4L478.1,207.4L478.4,207.4L478.6,207.4L478.9,207.5L479.1,207.6L479.4,207.7L479.6,207.9L479.9,208.1L480.1,208.4L480.4,208.7L480.6,209L480.9,209.4L481.1,209.9L481.4,210.3L481.6,210.9L481.9,211.4L482.1,211.9L482.4,212.5L482.6,213.1L482.9,213.7L483.1,214.3L483.4,214.9L483.6,215.5L483.9,216.2L484.1,216.8L484.4,217.5L484.6,218.1L484.9,218.7L485.1,219.4L485.4,220.1L485.6,220.7L485.9,221.4L486.1,222L486.4,222.7L486.6,223.4L486.9,224L487.1,224.7L487.4,225.3L487.6,225.9L487.9,226.6L488.1,227.2L488.4,227.7L488.6,228.3L488.9,228.8L489.1,229.3L489.4,229.7L489.6,230.1L489.9,230.4L490.1,230.7L490.4,230.9L490.6,231.1L490.9,231.3L491.1,231.4L491.4,231.5L491.6,231.6L491.9,231.7L492.1,231.7L492.4,231.8L492.6,231.8L492.9,231.8L493.1,231.8M491.3,203.4L491.6,203.3L491.8,203.2L492.1,203.1L492.3,203.1L492.6,203L492.8,202.9L493.1,202.8L493.3,202.7L493.6,202.7L493.8,202.6L494.1,202.5L494.3,202.4L494.6,202.4L494.8,202.3L495.1,202.2L495.3,202.2L495.6,202.2L495.8,202.1L496.1,202.1L496.3,202.1L496.6,202.1L496.8,202.1L497.1,202.2L497.3,202.3L497.6,202.4L497.8,202.5L498.1,202.7L498.3,202.9L498.6,203.2L498.8,203.5L499.1,203.9L499.3,204.2L499.6,204.7L499.8,205.1L500.1,205.6L500.3,206.1L500.6,206.7L500.8,207.3L501.1,207.9L501.3,208.5L501.6,209.1L501.8,209.8L502.1,210.4L502.3,211.1L502.6,211.8L502.8,212.5L503.1,213.2L503.3,213.9L503.6,214.7L503.8,215.4L504.1,216.1L504.3,216.9L504.6,217.6L504.8,218.4L505.1,219.2L505.3,219.9L505.6,220.7L505.8,221.5L506.1,222.2L506.3,223L506.6,223.8L506.8,224.5L507.1,225.3L507.3,226L507.6,226.7L507.8,227.3L508.1,228L508.3,228.5L508.6,229.1L508.8,229.6L509.1,230L509.3,230.3L509.6,230.6L509.8,230.9L510.1,231.1L510.3,231.3L510.6,231.4L510.8,231.5L511.1,231.6L511.3,231.7L511.6,231.7L511.8,231.8L512,231.8L512.3,231.8M507.2,196.5L507.5,196.4L507.7,196.3L508,196.1L508.2,196L508.5,195.9L508.7,195.8L509,195.7L509.2,195.5L509.5,195.4L509.7,195.3L510,195.2L510.2,195.1L510.5,194.9L510.7,194.8L511,194.7L511.2,194.6L511.5,194.5L511.7,194.4L512,194.3L512.2,194.2L512.5,194.1L512.7,194.1L513,194L513.2,193.9L513.5,193.9L513.7,193.8L514,193.8L514.2,193.8L514.5,193.8L514.7,193.9L515,193.9L515.2,194L515.5,194.1L515.7,194.2L516,194.4L516.2,194.6L516.5,194.8L516.7,195.1L517,195.4L517.2,195.7L517.5,196.1L517.7,196.5L518,197L518.2,197.4L518.5,197.9L518.7,198.5L519,199.1L519.2,199.7L519.5,200.3L519.7,200.9L520,201.6L520.2,202.3L520.5,203L520.7,203.7L521,204.4L521.2,205.2L521.5,206L521.7,206.7L522,207.5L522.2,208.3L522.5,209.2L522.7,210L523,210.8L523.2,211.6L523.5,212.5L523.7,213.4L524,214.2L524.2,215.1L524.5,216L524.7,216.9L525,217.7L525.2,218.6L525.5,219.5L525.7,220.4L526,221.3L526.2,222.2L526.5,223.1L526.7,223.9L527,224.8L527.2,225.6L527.5,226.4L527.7,227.1L528,227.8L528.2,228.5L528.5,229L528.7,229.5L529,230L529.2,230.4L529.5,230.7L529.7,230.9L530,231.1L530.2,231.3L530.5,231.4L530.7,231.5L531,231.6L531.2,231.7L531.5,231.7L531.7,231.8L532,231.8M520.4,189.4L520.7,189.3L520.9,189.2L521.2,189L521.4,188.9L521.7,188.7L521.9,188.6L522.2,188.4L522.4,188.3L522.7,188.1L522.9,188L523.2,187.8L523.4,187.7L523.7,187.5L523.9,187.4L524.2,187.2L524.4,187.1L524.7,187L524.9,186.8L525.2,186.7L525.4,186.5L525.7,186.4L525.9,186.2L526.2,186.1L526.4,186L526.7,185.8L526.9,185.7L527.2,185.6L527.4,185.5L527.7,185.3L527.9,185.2L528.2,185.1L528.4,185L528.7,184.9L528.9,184.8L529.2,184.7L529.4,184.6L529.7,184.5L529.9,184.4L530.2,184.4L530.4,184.3L530.7,184.3L530.9,184.2L531.2,184.2L531.4,184.1L531.7,184.1L531.9,184.1L532.2,184.1L532.4,184.1L532.7,184.1L532.9,184.2L533.2,184.2L533.4,184.3L533.7,184.3L533.9,184.4L534.2,184.5L534.4,184.6L534.7,184.8L534.9,184.9L535.2,185.1L535.4,185.3L535.7,185.5L535.9,185.7L536.2,185.9L536.4,186.2L536.7,186.4L536.9,186.7L537.2,187.1L537.4,187.4L537.7,187.8L537.9,188.2L538.2,188.6L538.4,189.1L538.7,189.5L538.9,190.1L539.2,190.6L539.4,191.2L539.7,191.8L539.9,192.4L540.2,193.1L540.4,193.8L540.7,194.5L540.9,195.3L541.2,196L541.4,196.9L541.7,197.7L541.9,198.6L542.2,199.5L542.4,200.5L542.7,201.5L542.9,202.5L543.2,203.5L543.4,204.5L543.7,205.6L543.9,206.7L544.2,207.8L544.4,208.9L544.7,210.1L544.9,211.2L545.2,212.4L545.4,213.5L545.7,214.6L545.9,215.8L546.2,216.9L546.4,218L546.7,219L546.9,220.1L547.2,221.1L547.4,222.1L547.7,223L547.9,223.9L548.2,224.7L548.4,225.5L548.7,226.3L548.9,227L549.2,227.6L549.4,228.2L549.7,228.7L549.9,229.2L550.2,229.7L550.4,230L550.7,230.4L550.9,230.7L551.2,230.9L551.4,231.1L551.7,231.3L551.9,231.4L552.2,231.5L552.4,231.6L552.7,231.7L552.9,231.8L553.2,231.8L553.4,231.8L553.7,231.8M538.9,176.6L539.1,176.4L539.4,176.3L539.6,176.2L539.9,176L540.1,175.9L540.4,175.7L540.6,175.6L540.9,175.4L541.1,175.3L541.4,175.1L541.6,175L541.9,174.9L542.1,174.7L542.4,174.6L542.6,174.5L542.9,174.4L543.1,174.2L543.4,174.1L543.6,174L543.9,173.9L544.1,173.8L544.4,173.7L544.6,173.6L544.9,173.4L545.1,173.3L545.4,173.3L545.6,173.2L545.9,173.1L546.1,173L546.4,172.9L546.6,172.8L546.9,172.8L547.1,172.7L547.4,172.7L547.6,172.6L547.9,172.6L548.1,172.5L548.4,172.5L548.6,172.5L548.9,172.5L549.1,172.4L549.4,172.4L549.6,172.4L549.9,172.4L550.1,172.5L550.4,172.5L550.6,172.5L550.9,172.6L551.1,172.6L551.4,172.7L551.6,172.7L551.9,172.8L552.1,172.9L552.4,173L552.6,173.1L552.9,173.2L553.1,173.3L553.4,173.5L553.6,173.6L553.9,173.8L554.1,174L554.4,174.2L554.6,174.5L554.9,174.7L555.1,175L555.4,175.2L555.6,175.5L555.9,175.9L556.1,176.2L556.4,176.6L556.6,177L556.9,177.4L557.1,177.8L557.4,178.3L557.6,178.8L557.9,179.4L558.1,179.9L558.4,180.5L558.6,181.1L558.9,181.8L559.1,182.4L559.4,183.2L559.6,183.9L559.9,184.7L560.1,185.5L560.4,186.4L560.6,187.2L560.9,188.2L561.1,189.1L561.4,190.1L561.6,191.1L561.9,192.2L562.1,193.3L562.4,194.4L562.6,195.5L562.9,196.7L563.1,197.9L563.4,199.1L563.6,200.4L563.9,201.6L564.1,202.9L564.4,204.2L564.6,205.5L564.9,206.8L565.1,208.1L565.4,209.4L565.6,210.7L565.9,212L566.1,213.3L566.4,214.6L566.6,215.8L566.9,217L567.1,218.2L567.4,219.3L567.6,220.4L567.9,221.5L568.1,222.5L568.4,223.4L568.6,224.4L568.9,225.2L569.1,226L569.4,226.7L569.6,227.4L569.9,228L570.1,228.6L570.4,229.1L570.6,229.5L570.9,229.9L571.1,230.3L571.4,230.6L571.6,230.8L571.9,231L572.1,231.2L572.4,231.4L572.6,231.5L572.9,231.6L573.1,231.7L573.4,231.7L573.6,231.8L573.9,231.8L574.1,231.8M560.6,162.8L560.8,162.7L561.1,162.5L561.3,162.4L561.6,162.2L561.8,162.1L562.1,161.9L562.3,161.8L562.6,161.6L562.8,161.5L563.1,161.3L563.3,161.2L563.6,161.1L563.8,160.9L564.1,160.8L564.3,160.7L564.6,160.5L564.8,160.4L565.1,160.3L565.3,160.2L565.6,160.1L565.8,160L566.1,159.8L566.3,159.7L566.6,159.6L566.8,159.6L567.1,159.5L567.3,159.4L567.6,159.3L567.8,159.2L568.1,159.2L568.3,159.1L568.6,159.1L568.8,159L569.1,159L569.3,159L569.6,158.9L569.8,158.9L570.1,158.9L570.3,158.9L570.6,159L570.8,159L571.1,159L571.3,159.1L571.6,159.2L571.8,159.2L572.1,159.3L572.3,159.4L572.6,159.6L572.8,159.7L573.1,159.8L573.3,160L573.6,160.2L573.8,160.4L574.1,160.6L574.3,160.9L574.6,161.1L574.8,161.4L575.1,161.7L575.3,162L575.6,162.4L575.8,162.8L576.1,163.2L576.3,163.6L576.6,164.1L576.8,164.5L577.1,165.1L577.3,165.6L577.6,166.2L577.8,166.8L578.1,167.5L578.3,168.1L578.6,168.9L578.8,169.6L579.1,170.4L579.3,171.3L579.6,172.1L579.8,173.1L580.1,174L580.3,175L580.6,176.1L580.8,177.2L581.1,178.3L581.3,179.5L581.6,180.7L581.8,181.9L582.1,183.2L582.3,184.6L582.6,186L582.8,187.4L583.1,188.8L583.3,190.3L583.6,191.8L583.8,193.4L584.1,195L584.3,196.5L584.6,198.1L584.8,199.8L585.1,201.4L585.3,203L585.6,204.7L585.8,206.3L586.1,207.9L586.3,209.5L586.6,211.1L586.8,212.6L587.1,214.1L587.3,215.6L587.6,217L587.8,218.3L588.1,219.7L588.3,220.9L588.6,222.1L588.8,223.2L589.1,224.2L589.3,225.2L589.6,226.1L589.8,226.9L590.1,227.6L590.3,228.3L590.6,228.8L590.8,229.4L591.1,229.8L591.3,230.2L591.6,230.5L591.8,230.8L592.1,231L592.3,231.2L592.6,231.4L592.8,231.5L593.1,231.6L593.3,231.7L593.6,231.8L593.8,231.8L594.1,231.8M582.4,149.5L582.7,149.4L582.9,149.3L583.2,149.2L583.4,149.1L583.7,149L583.9,148.9L584.2,148.8L584.4,148.7L584.7,148.6L584.9,148.5L585.2,148.4L585.4,148.4L585.7,148.3L585.9,148.2L586.2,148.1L586.4,148L586.7,148L586.9,147.9L587.2,147.8L587.4,147.8L587.7,147.7L587.9,147.7L588.2,147.6L588.4,147.6L588.7,147.6L588.9,147.5L589.2,147.5L589.4,147.5L589.7,147.4L589.9,147.4L590.2,147.4L590.4,147.4L590.7,147.4L590.9,147.5L591.2,147.5L591.4,147.5L591.7,147.6L591.9,147.6L592.2,147.7L592.4,147.8L592.7,147.8L592.9,147.9L593.2,148L593.4,148.2L593.7,148.3L593.9,148.4L594.2,148.6L594.4,148.8L594.7,149L594.9,149.2L595.2,149.4L595.4,149.7L595.7,150L595.9,150.3L596.2,150.6L596.4,150.9L596.7,151.3L596.9,151.7L597.2,152.1L597.4,152.5L597.7,153L597.9,153.5L598.2,154L598.4,154.6L598.7,155.2L598.9,155.8L599.2,156.5L599.4,157.2L599.7,158L599.9,158.8L600.2,159.6L600.4,160.5L600.7,161.4L600.9,162.3L601.2,163.4L601.4,164.4L601.7,165.5L601.9,166.7L602.2,167.8L602.4,169.1L602.7,170.4L602.9,171.7L603.2,173.1L603.4,174.5L603.7,176L603.9,177.6L604.2,179.1L604.4,180.8L604.7,182.4L604.9,184.1L605.2,185.8L605.4,187.6L605.7,189.4L605.9,191.2L606.2,193.1L606.4,194.9L606.7,196.8L606.9,198.7L607.2,200.5L607.4,202.4L607.7,204.3L607.9,206.1L608.2,207.9L608.4,209.7L608.7,211.4L608.9,213.1L609.2,214.7L609.4,216.3L609.7,217.8L609.9,219.2L610.2,220.6L610.4,221.8L610.7,223L610.9,224.1L611.2,225.2L611.4,226.1L611.7,226.9L611.9,227.7L612.2,228.4L612.4,229L612.7,229.5L612.9,229.9L613.2,230.3L613.4,230.7L613.7,230.9L613.9,231.1L614.2,231.3L614.4,231.5L614.7,231.6L614.9,231.7L615.2,231.7L615.4,231.8L615.7,231.8M603.7,138.5L603.9,138.4L604.2,138.3L604.4,138.2L604.7,138.1L604.9,138L605.2,137.9L605.4,137.8L605.7,137.7L605.9,137.6L606.2,137.5L606.4,137.5L606.7,137.4L606.9,137.3L607.2,137.2L607.4,137.2L607.7,137.1L607.9,137.1L608.2,137L608.4,137L608.7,136.9L608.9,136.9L609.2,136.9L609.4,136.8L609.7,136.8L609.9,136.8L610.2,136.8L610.4,136.8L610.7,136.8L610.9,136.8L611.2,136.9L611.4,136.9L611.7,137L611.9,137L612.2,137.1L612.4,137.2L612.7,137.3L612.9,137.4L613.2,137.5L613.4,137.6L613.7,137.8L613.9,138L614.2,138.2L614.4,138.4L614.7,138.6L614.9,138.8L615.2,139.1L615.4,139.4L615.7,139.7L615.9,140.1L616.2,140.4L616.4,140.8L616.7,141.3L616.9,141.7L617.2,142.2L617.4,142.7L617.7,143.3L617.9,143.9L618.2,144.5L618.4,145.2L618.7,145.9L618.9,146.7L619.2,147.5L619.4,148.3L619.7,149.2L619.9,150.2L620.2,151.2L620.4,152.2L620.7,153.4L620.9,154.5L621.2,155.7L621.4,157L621.7,158.4L621.9,159.8L622.2,161.2L622.4,162.8L622.7,164.4L622.9,166L623.2,167.7L623.4,169.5L623.7,171.3L623.9,173.2L624.2,175.1L624.4,177.1L624.7,179.2L624.9,181.3L625.2,183.4L625.4,185.5L625.7,187.7L625.9,189.9L626.2,192.2L626.4,194.4L626.7,196.6L626.9,198.8L627.2,201.1L627.4,203.2L627.7,205.4L627.9,207.5L628.2,209.5L628.4,211.5L628.7,213.5L628.9,215.3L629.2,217L629.4,218.7L629.7,220.3L629.9,221.7L630.2,223L630.4,224.3L630.7,225.4L630.9,226.4L631.2,227.3L631.4,228.1L631.7,228.8L631.9,229.4L632.2,229.9L632.4,230.3L632.7,230.7L632.9,231L633.2,231.2L633.4,231.4L633.7,231.5L633.9,231.6L634.2,231.7L634.4,231.8L634.7,231.8M628,125.8L628.3,125.7L628.5,125.6L628.8,125.5L629,125.4L629.3,125.3L629.5,125.2L629.8,125.2L630,125.1L630.3,125L630.5,125L630.8,124.9L631,124.8L631.3,124.8L631.5,124.8L631.8,124.7L632,124.7L632.3,124.7L632.5,124.6L632.8,124.6L633,124.6L633.3,124.6L633.5,124.6L633.8,124.7L634,124.7L634.3,124.7L634.5,124.8L634.8,124.9L635,125L635.3,125.1L635.5,125.2L635.8,125.3L636,125.4L636.3,125.6L636.5,125.8L636.8,126L637,126.2L637.3,126.4L637.5,126.7L637.8,127L638,127.3L638.3,127.6L638.5,128L638.8,128.4L639,128.8L639.3,129.3L639.5,129.8L639.8,130.4L640,130.9L640.3,131.6L640.5,132.2L640.8,133L641,133.7L641.3,134.6L641.5,135.4L641.8,136.4L642,137.4L642.3,138.4L642.5,139.5L642.8,140.7L643,141.9L643.3,143.3L643.5,144.7L643.8,146.1L644,147.7L644.3,149.3L644.5,151L644.8,152.8L645,154.6L645.3,156.6L645.5,158.6L645.8,160.7L646,162.9L646.3,165.1L646.5,167.5L646.8,169.9L647,172.3L647.3,174.9L647.5,177.4L647.8,180.1L648,182.7L648.3,185.4L648.5,188.1L648.8,190.9L649,193.6L649.3,196.3L649.5,199L649.8,201.6L650,204.2L650.3,206.7L650.5,209.1L650.8,211.5L651,213.7L651.3,215.8L651.5,217.8L651.8,219.6L652,221.3L652.3,222.9L652.5,224.3L652.8,225.6L653,226.7L653.3,227.7L653.5,228.5L653.8,229.2L654,229.8L654.3,230.3L654.5,230.7L654.8,231L655,231.3L655.3,231.4L655.5,231.6L655.8,231.7L656,231.8L656.3,231.8M408.9,231.9H687.4" stroke="#2020ff" stroke-width="1.0" fill="none"/>
<line x1="421.5" y1="183.8" x2="452.3" y2="183.8" stroke="#c8c8c8" stroke-width="1.5" />
<path d="M457.3,183.8L450.3,181L452.3,183.8L450.3,186.6Z" fill="#111"/>
<text x="437" y="174.9" font-size="11.5" text-anchor="middle" fill="#1a1a1a" font-family="Liberation Serif, serif" textLength="5.2" lengthAdjust="spacingAndGlyphs"><tspan font-style="italic">τ</tspan></text>
<text x="547.9" y="264.5" font-size="14.4" text-anchor="middle" fill="#333" font-family="Liberation Serif, serif" textLength="10.4" lengthAdjust="spacingAndGlyphs"><tspan font-style="italic">X</tspan></text>
<text transform="translate(382.5,120.1) rotate(-90)" font-size="14.4" text-anchor="middle" fill="#333" font-family="Liberation Serif, serif" textLength="46.6" lengthAdjust="spacingAndGlyphs"><tspan font-style="italic">w</tspan><tspan>(</tspan><tspan font-style="italic">X</tspan><tspan>, </tspan><tspan font-style="italic">τ</tspan><tspan>)</tspan></text>
<rect x="471.2" y="20.3" width="72.3" height="55.9" fill="#fff" stroke="#9a9a9a" stroke-width="1"/>
<path d="M474.9,76.2V74.4M474.9,20.3V22.1M506.2,76.2V74.4M506.2,20.3V22.1M537.6,76.2V74.4M537.6,20.3V22.1M471.2,76.4H473M543.5,76.4H541.7M471.2,49.4H473M543.5,49.4H541.7M471.2,22.4H473M543.5,22.4H541.7" stroke="#9a9a9a" stroke-width="1" fill="none"/>
<clipPath id="cb1"><rect x="471.2" y="20.3" width="72.30000000000001" height="55.900000000000006"/></clipPath>
<g clip-path="url(#cb1)"><path d="M471.2,34.2L472.1,34.7L473.1,35.2L474,35.7L474.9,36.2L475.8,36.7L476.8,37.1L477.7,37.6L478.6,38.1L479.6,38.5L480.5,39L481.4,39.4L482.3,39.9L483.3,40.3L484.2,40.8L485.1,41.2L486,41.6L487,42L487.9,42.4L488.8,42.9L489.8,43.3L490.7,43.7L491.6,44.1L492.5,44.5L493.5,44.9L494.4,45.3L495.3,45.7L496.3,46.1L497.2,46.5L498.1,46.9L499,47.3L500,47.7L500.9,48.1L501.8,48.5L502.7,48.9L503.7,49.3L504.6,49.7L505.5,50.1L506.5,50.6L507.4,51L508.3,51.4L509.2,51.9L510.2,52.3L511.1,52.8L512,53.2L513,53.7L513.9,54.1L514.8,54.6L515.7,55.1L516.7,55.6L517.6,56.1L518.5,56.6L519.4,57.2L520.4,57.7L521.3,58.3L522.2,58.9L523.2,59.4L524.1,60L525,60.7L525.9,61.3L526.9,61.9L527.8,62.6L528.7,63.3L529.7,64L530.6,64.7L531.5,65.4L532.4,66.2L533.4,67L534.3,67.8L535.2,68.6L536.1,69.4L537.1,70.3L538,71.2L538.9,72.1L539.9,73.1L540.8,74L541.7,75L542.6,76.1L543.6,77.1L544.5,78.2" stroke="#ff0000" stroke-width="1.2" stroke-dasharray="5,3" fill="none"/><path d="M471.2,29.6L472.1,30.1L473.1,30.6L474,31L474.9,31.5L475.8,32L476.8,32.5L477.7,33L478.6,33.5L479.6,33.9L480.5,34.4L481.4,34.9L482.3,35.4L483.3,35.9L484.2,36.3L485.1,36.8L486,37.3L487,37.7L487.9,38.2L488.8,38.6L489.8,39.1L490.7,39.5L491.6,40L492.5,40.4L493.5,40.8L494.4,41.2L495.3,41.7L496.3,42.1L497.2,42.5L498.1,42.9L499,43.3L500,43.7L500.9,44.2L501.8,44.6L502.7,45L503.7,45.4L504.6,45.8L505.5,46.2L506.5,46.6L507.4,47L508.3,47.4L509.2,47.8L510.2,48.2L511.1,48.6L512,49.1L513,49.5L513.9,49.9L514.8,50.4L515.7,50.9L516.7,51.3L517.6,51.8L518.5,52.3L519.4,52.8L520.4,53.3L521.3,53.9L522.2,54.4L523.2,55L524.1,55.6L525,56.2L525.9,56.8L526.9,57.5L527.8,58.2L528.7,58.9L529.7,59.6L530.6,60.4L531.5,61.2L532.4,62.1L533.4,62.9L534.3,63.9L535.2,64.8L536.1,65.8L537.1,66.8L538,67.9L538.9,69L539.9,70.2L540.8,71.4L541.7,72.7L542.6,74L543.6,75.4L544.5,76.9" stroke="#2020ff" stroke-width="1.0" fill="none"/></g>
<text x="467.6" y="80.4" font-size="11" text-anchor="end" fill="#1a1a1a" font-family="Liberation Sans, sans-serif"  letter-spacing="0.55" stroke="#1a1a1a" stroke-width="0.25">3</text>
<text x="467.6" y="53.4" font-size="11" text-anchor="end" fill="#1a1a1a" font-family="Liberation Sans, sans-serif"  letter-spacing="0.55" stroke="#1a1a1a" stroke-width="0.25">3.5</text>
<text x="467.6" y="26.4" font-size="11" text-anchor="end" fill="#1a1a1a" font-family="Liberation Sans, sans-serif"  letter-spacing="0.55" stroke="#1a1a1a" stroke-width="0.25">4</text>
<text x="475.2" y="91.3" font-size="11" text-anchor="middle" fill="#1a1a1a" font-family="Liberation Sans, sans-serif"  letter-spacing="0.55" stroke="#1a1a1a" stroke-width="0.25">6</text>
<text x="506.5" y="91.3" font-size="11" text-anchor="middle" fill="#1a1a1a" font-family="Liberation Sans, sans-serif"  letter-spacing="0.55" stroke="#1a1a1a" stroke-width="0.25">7</text>
<text x="537.9" y="91.3" font-size="11" text-anchor="middle" fill="#1a1a1a" font-family="Liberation Sans, sans-serif"  letter-spacing="0.55" stroke="#1a1a1a" stroke-width="0.25">8</text>
<text x="507.2" y="105.3" font-size="12.3" text-anchor="middle" fill="#444" font-family="Liberation Serif, serif" textLength="9.6" lengthAdjust="spacingAndGlyphs"><tspan font-style="italic">X</tspan></text>
<text transform="translate(444,48.2) rotate(-90)" font-size="12.3" text-anchor="middle" fill="#444" font-family="Liberation Serif, serif" textLength="59.1" lengthAdjust="spacingAndGlyphs"><tspan font-style="italic">w</tspan><tspan>(</tspan><tspan font-style="italic">X</tspan><tspan>, </tspan><tspan>1.8</tspan><tspan font-style="italic">λ</tspan><tspan>)</tspan></text>
<rect x="605.3" y="19.6" width="72.2" height="56.6" fill="#fff" stroke="#9a9a9a" stroke-width="1"/>
<path d="M616.5,76.2V74.4M616.5,19.6V21.4M630.7,76.2V74.4M630.7,19.6V21.4M644.9,76.2V74.4M644.9,19.6V21.4M659.1,76.2V74.4M659.1,19.6V21.4M673.3,76.2V74.4M673.3,19.6V21.4M605.3,65.5H607.1M677.5,65.5H675.7M605.3,53.8H607.1M677.5,53.8H675.7M605.3,42.1H607.1M677.5,42.1H675.7M605.3,30.4H607.1M677.5,30.4H675.7" stroke="#9a9a9a" stroke-width="1" fill="none"/>
<clipPath id="cb2"><rect x="605.3" y="19.6" width="72.20000000000005" height="56.6"/></clipPath>
<g clip-path="url(#cb2)"><path d="M605.3,44.3L605.9,44.1L606.4,43.8L607,43.6L607.6,43.4L608.1,43.2L608.7,43L609.3,42.7L609.9,42.5L610.4,42.3L611,42.1L611.6,41.9L612.1,41.7L612.7,41.5L613.3,41.3L613.8,41.1L614.4,40.9L615,40.7L615.5,40.5L616.1,40.2L616.7,40L617.2,39.8L617.8,39.6L618.4,39.4L619,39.2L619.5,39L620.1,38.8L620.7,38.7L621.2,38.5L621.8,38.3L622.4,38.2L622.9,38L623.5,37.9L624.1,37.7L624.6,37.6L625.2,37.5L625.8,37.4L626.3,37.3L626.9,37.1L627.5,37L628.1,36.9L628.6,36.8L629.2,36.7L629.8,36.6L630.3,36.5L630.9,36.4L631.5,36.3L632,36.2L632.6,36.1L633.2,36.1L633.7,36L634.3,35.9L634.9,35.9L635.5,35.8L636,35.8L636.6,35.8L637.2,35.8L637.7,35.8L638.3,35.8L638.9,35.8L639.4,35.8L640,35.8L640.6,35.8L641.1,35.8L641.7,35.8L642.3,35.8L642.8,35.8L643.4,35.8L644,35.8L644.6,35.8L645.1,35.8L645.7,35.9L646.3,36L646.8,36.1L647.4,36.2L648,36.4L648.5,36.6L649.1,36.8L649.7,37L650.2,37.2L650.8,37.4L651.4,37.7L652,37.9L652.5,38.2L653.1,38.5L653.7,38.9L654.2,39.3L654.8,39.7L655.4,40.2L655.9,40.7L656.5,41.3L657.1,41.8L657.6,42.3L658.2,42.9L658.8,43.5L659.3,44.1L659.9,44.8L660.5,45.4L661.1,46.2L661.6,46.9L662.2,47.7L662.8,48.5L663.3,49.4L663.9,50.3L664.5,51.3L665,52.3L665.6,53.3L666.2,54.5L666.7,55.7L667.3,57L667.9,58.4L668.4,59.9L669,61.5L669.6,63.2L670.2,65.2L670.7,67.4L671.3,69.8L671.9,72.3L672.4,74.9L673,78" stroke="#ff0000" stroke-width="1.2" stroke-dasharray="5,3" fill="none"/><path d="M605.3,39.7L605.9,39.5L606.4,39.3L607,39.1L607.6,38.9L608.2,38.7L608.7,38.5L609.3,38.3L609.9,38.1L610.5,37.9L611,37.7L611.6,37.5L612.2,37.3L612.8,37.1L613.3,36.9L613.9,36.7L614.5,36.5L615,36.3L615.6,36.1L616.2,35.9L616.8,35.7L617.3,35.5L617.9,35.3L618.5,35.1L619.1,34.9L619.6,34.7L620.2,34.5L620.8,34.3L621.3,34.2L621.9,34L622.5,33.8L623.1,33.7L623.6,33.5L624.2,33.4L624.8,33.3L625.4,33.2L625.9,33L626.5,32.9L627.1,32.8L627.7,32.7L628.2,32.6L628.8,32.5L629.4,32.3L629.9,32.2L630.5,32.1L631.1,32L631.7,31.9L632.2,31.9L632.8,31.8L633.4,31.7L634,31.6L634.5,31.6L635.1,31.5L635.7,31.5L636.2,31.4L636.8,31.4L637.4,31.4L638,31.4L638.5,31.4L639.1,31.3L639.7,31.3L640.3,31.3L640.8,31.3L641.4,31.3L642,31.3L642.6,31.3L643.1,31.3L643.7,31.3L644.3,31.4L644.8,31.5L645.4,31.6L646,31.7L646.6,31.9L647.1,32.1L647.7,32.3L648.3,32.5L648.9,32.7L649.4,32.9L650,33.2L650.6,33.4L651.1,33.8L651.7,34.1L652.3,34.5L652.9,34.9L653.4,35.4L654,35.8L654.6,36.3L655.2,36.8L655.7,37.3L656.3,37.9L656.9,38.4L657.5,39L658,39.7L658.6,40.3L659.2,41L659.7,41.8L660.3,42.6L660.9,43.4L661.5,44.2L662,45.1L662.6,46L663.2,47L663.8,48.1L664.3,49.2L664.9,50.4L665.5,51.6L666,53L666.6,54.3L667.2,55.8L667.8,57.3L668.3,59L668.9,60.8L669.5,62.6L670.1,64.5L670.6,66.5L671.2,68.7L671.8,70.9L672.4,73.3L672.9,75.6L673.5,78" stroke="#2020ff" stroke-width="1.0" fill="none"/></g>
<text x="601.4" y="69.5" font-size="11" text-anchor="end" fill="#1a1a1a" font-family="Liberation Sans, sans-serif"  letter-spacing="0.55" stroke="#1a1a1a" stroke-width="0.25">11</text>
<text x="601.4" y="57.8" font-size="11" text-anchor="end" fill="#1a1a1a" font-family="Liberation Sans, sans-serif"  letter-spacing="0.55" stroke="#1a1a1a" stroke-width="0.25">11.5</text>
<text x="601.4" y="46.1" font-size="11" text-anchor="end" fill="#1a1a1a" font-family="Liberation Sans, sans-serif"  letter-spacing="0.55" stroke="#1a1a1a" stroke-width="0.25">12</text>
<text x="601.4" y="34.4" font-size="11" text-anchor="end" fill="#1a1a1a" font-family="Liberation Sans, sans-serif"  letter-spacing="0.55" stroke="#1a1a1a" stroke-width="0.25">12.5</text>
<text x="616.8" y="89.8" font-size="11" text-anchor="middle" fill="#1a1a1a" font-family="Liberation Sans, sans-serif"  letter-spacing="0.55" stroke="#1a1a1a" stroke-width="0.25">102</text>
<text x="645.2" y="89.8" font-size="11" text-anchor="middle" fill="#1a1a1a" font-family="Liberation Sans, sans-serif"  letter-spacing="0.55" stroke="#1a1a1a" stroke-width="0.25">106</text>
<text x="673.6" y="89.8" font-size="11" text-anchor="middle" fill="#1a1a1a" font-family="Liberation Sans, sans-serif"  letter-spacing="0.55" stroke="#1a1a1a" stroke-width="0.25">110</text>
<text x="640.6" y="104.6" font-size="12.3" text-anchor="middle" fill="#444" font-family="Liberation Serif, serif" textLength="9.6" lengthAdjust="spacingAndGlyphs"><tspan font-style="italic">X</tspan></text>
<text transform="translate(572,47.6) rotate(-90)" font-size="12.3" text-anchor="middle" fill="#444" font-family="Liberation Serif, serif" textLength="66.5" lengthAdjust="spacingAndGlyphs"><tspan font-style="italic">w</tspan><tspan>(</tspan><tspan font-style="italic">X</tspan><tspan>, </tspan><tspan>19.4</tspan><tspan font-style="italic">λ</tspan><tspan>)</tspan></text>
<text x="468.6" y="297.3" font-size="19.5" font-weight="bold" fill="#111" font-family="Liberation Serif, serif" textLength="23.5" lengthAdjust="spacingAndGlyphs">(b)</text>
<text x="500.8" y="297.8" font-size="13.2" fill="#333" font-family="Liberation Serif, serif" textLength="114.9" lengthAdjust="spacingAndGlyphs">Stalk Cell Density</text>
<rect x="60.7" y="348.4" width="263.7" height="223.5" fill="none" stroke="#666666" stroke-width="1"/>
<path d="M99.5,571.9V569.1M99.5,348.4V351.2M141.1,571.9V569.1M141.1,348.4V351.2M182.6,571.9V569.1M182.6,348.4V351.2M224.1,571.9V569.1M224.1,348.4V351.2M265.7,571.9V569.1M265.7,348.4V351.2M307.2,571.9V569.1M307.2,348.4V351.2M60.7,571.9H63.5M324.4,571.9H321.6M60.7,540H63.5M324.4,540H321.6M60.7,508H63.5M324.4,508H321.6M60.7,476.1H63.5M324.4,476.1H321.6M60.7,444.2H63.5M324.4,444.2H321.6M60.7,412.3H63.5M324.4,412.3H321.6M60.7,380.3H63.5M324.4,380.3H321.6M60.7,348.4H63.5M324.4,348.4H321.6" stroke="#666666" stroke-width="1" fill="none"/>
<text x="99.7" y="587.9" font-size="12" text-anchor="middle" fill="#1a1a1a" font-family="Liberation Sans, sans-serif"  letter-spacing="0.35" stroke="#1a1a1a" stroke-width="0.25">0.5</text>
<text x="141.2" y="587.9" font-size="12" text-anchor="middle" fill="#1a1a1a" font-family="Liberation Sans, sans-serif"  letter-spacing="0.35" stroke="#1a1a1a" stroke-width="0.25">1</text>
<text x="182.8" y="587.9" font-size="12" text-anchor="middle" fill="#1a1a1a" font-family="Liberation Sans, sans-serif"  letter-spacing="0.35" stroke="#1a1a1a" stroke-width="0.25">1.5</text>
<text x="224.3" y="587.9" font-size="12" text-anchor="middle" fill="#1a1a1a" font-family="Liberation Sans, sans-serif"  letter-spacing="0.35" stroke="#1a1a1a" stroke-width="0.25">2</text>
<text x="265.9" y="587.9" font-size="12" text-anchor="middle" fill="#1a1a1a" font-family="Liberation Sans, sans-serif"  letter-spacing="0.35" stroke="#1a1a1a" stroke-width="0.25">2.5</text>
<text x="307.4" y="587.9" font-size="12" text-anchor="middle" fill="#1a1a1a" font-family="Liberation Sans, sans-serif"  letter-spacing="0.35" stroke="#1a1a1a" stroke-width="0.25">3</text>
<text x="55.9" y="576.2" font-size="12" text-anchor="end" fill="#1a1a1a" font-family="Liberation Sans, sans-serif"  letter-spacing="0.35" stroke="#1a1a1a" stroke-width="0.25">0</text>
<text x="55.9" y="544.3" font-size="12" text-anchor="end" fill="#1a1a1a" font-family="Liberation Sans, sans-serif"  letter-spacing="0.35" stroke="#1a1a1a" stroke-width="0.25">0.005</text>
<text x="55.9" y="512.3" font-size="12" text-anchor="end" fill="#1a1a1a" font-family="Liberation Sans, sans-serif"  letter-spacing="0.35" stroke="#1a1a1a" stroke-width="0.25">0.01</text>
<text x="55.9" y="480.4" font-size="12" text-anchor="end" fill="#1a1a1a" font-family="Liberation Sans, sans-serif"  letter-spacing="0.35" stroke="#1a1a1a" stroke-width="0.25">0.015</text>
<text x="55.9" y="448.5" font-size="12" text-anchor="end" fill="#1a1a1a" font-family="Liberation Sans, sans-serif"  letter-spacing="0.35" stroke="#1a1a1a" stroke-width="0.25">0.02</text>
<text x="55.9" y="416.6" font-size="12" text-anchor="end" fill="#1a1a1a" font-family="Liberation Sans, sans-serif"  letter-spacing="0.35" stroke="#1a1a1a" stroke-width="0.25">0.025</text>
<text x="55.9" y="384.6" font-size="12" text-anchor="end" fill="#1a1a1a" font-family="Liberation Sans, sans-serif"  letter-spacing="0.35" stroke="#1a1a1a" stroke-width="0.25">0.03</text>
<text x="55.9" y="352.7" font-size="12" text-anchor="end" fill="#1a1a1a" font-family="Liberation Sans, sans-serif"  letter-spacing="0.35" stroke="#1a1a1a" stroke-width="0.25">0.035</text>
<path d="M60.7,571.9L60.9,560.2L61.1,548.8L61.2,537.6L61.4,526.3L61.6,515.6L61.8,506.3L62,498.3L62.1,490.9L62.3,483.8L62.5,476.3L62.7,468L62.9,459.3L63,450.7L63.2,443.2L63.4,437.1L63.6,431.5L63.7,426.3L63.9,421.7L64.1,417.5L64.3,414L64.5,411.3L64.6,408.9L64.8,406.8L65,404.9L65.2,403.2L65.4,401.6L65.5,400.1L65.7,398.6L65.9,396.9L66,396L67,386.7L68,376.8L69,371.2L70,367.1L71,364L72,361.3L73,359L74,357.1L75,355.5L76,354.3L77,353.2L78,352.4L79,351.8L80,351.4L81,351.2L82,351.2L83,351.3L84,351.5L85,351.8L86,352.2L87,352.6L88,353.1L89,353.7L90,354.4L91,355L92,355.8L93,356.5L94,357.3L95,358.2L96,359L97,359.9L98,360.8L99,361.8L100,362.7L101,363.6L102,364.6L103,365.5L104,366.5L105,367.5L106,368.4L107,369.4L108,370.3L109,371.3L110,372.3L111,373.3L112,374.2L113,375.2L114,376.2L115,377.2L116,378.2L117,379.2L118,380.1L119,381.1L120,382.1L121,383.1L122,384.1L123,385.1L124,386L125,387L126,388L127,389L128,390L129,391L130,392L131,393L132,394L133,395L134,396L135,397L136,398L137,399L138,400L139,401L140,402L141,403L142,404L143,405L144,406L145,407.1L146,408.1L147,409.1L148,410.1L149,411.1L150,412.1L151,413.2L152,414.2L153,415.2L154,416.2L155,417.3L156,418.3L157,419.3L158,420.3L159,421.4L160,422.4L161,423.4L162,424.5L163,425.5L164,426.6L165,427.6L166,428.6L167,429.7L168,430.7L169,431.8L170,432.8L171,433.9L172,434.9L173,436L174,437L175,438.1L176,439.1L177,440.2L178,441.2L179,442.3L180,443.3L181,444.4L182,445.4L183,446.4L184,447.5L185,448.5L186,449.5L187,450.4L188,451.4L189,452.3L190,453.2L191,454.1L192,455L193,455.9L194,456.7L195,457.5L196,458.3L197,459.1L198,459.9L199,460.7L200,461.4L201,462.1L202,462.8L203,463.5L204,464.1L205,464.7L206,465.3L207,465.8L208,466.3L209,466.7L210,467.1L211,467.5L212,467.9L213,468.3L214,468.6L215,469L216,469.4L217,469.7L218,470.1L219,470.4L220,470.6L221,470.9L222,471.1L223,471.3L224,471.5L225,471.6L226,471.8L227,471.9L228,472L229,472L230,472.1L231,472.1L232,472.2L233,472.2L234,472.2L235,472.2L236,472.1L237,472.1L238,472.1L239,472L240,471.9L241,471.9L242,471.8L243,471.7L244,471.6L245,471.5L246,471.4L247,471.3L248,471.2L249,471.1L250,471L251,470.8L252,470.7L253,470.5L254,470.3L255,470.2L256,470L257,469.8L258,469.6L259,469.4L260,469.2L261,469L262,468.8L263,468.6L264,468.3L265,468.1L266,467.9L267,467.6L268,467.4L269,467.2L270,466.9L271,466.7L272,466.4L273,466.2L274,465.9L275,465.7L276,465.4L277,465.2L278,464.9L279,464.7L280,464.5L281,464.2L282,464L283,463.7L284,463.5L285,463.3L286,463.1L287,462.8L288,462.6L289,462.4L290,462.2L291,462L292,461.8L293,461.6L294,461.4L295,461.2L296,460.9L297,460.7L298,460.5L299,460.3L300,460.1L301,459.9L302,459.7L303,459.5L304,459.3L305,459.1L306,458.9L307,458.6L308,458.4L309,458.2L310,458L311,457.8L312,457.6L313,457.4L314,457.1L315,456.9L316,456.7L317,456.5L318,456.3L319,456.1L320,455.9L321,455.7L322,455.5L323,455.3L324,455.2L324.4,455.2" stroke="#2e2e2e" stroke-width="1.25" fill="none" stroke-linejoin="round"/>
<text x="192.5" y="603.6" font-size="14.4" text-anchor="middle" fill="#1a1a1a" font-family="Liberation Serif, serif" textLength="7.2" lengthAdjust="spacingAndGlyphs"><tspan font-style="italic">τ</tspan></text>
<line x1="10.6" y1="384.3" x2="10.6" y2="536.3" stroke="#333" stroke-width="0.8"/>
<text transform="translate(8.2,460) rotate(-90)" font-size="10" text-anchor="middle" fill="#222" font-family="Liberation Serif, serif" textLength="104" lengthAdjust="spacingAndGlyphs">‖<tspan font-style="italic">u</tspan><tspan font-size="7" dy="2" font-style="italic">ST</tspan><tspan dy="-2">(</tspan><tspan font-style="italic">X</tspan>,<tspan font-style="italic">τ</tspan>)−<tspan font-style="italic">u</tspan><tspan font-size="7" dy="2" font-style="italic">P</tspan><tspan dy="-2">(</tspan><tspan font-style="italic">X</tspan>,<tspan font-style="italic">τ</tspan>)‖<tspan font-size="7" dy="2">∞</tspan></text>
<text transform="translate(20,460) rotate(-90)" font-size="10" text-anchor="middle" fill="#222" font-family="Liberation Serif, serif" textLength="151" lengthAdjust="spacingAndGlyphs">max{‖<tspan font-style="italic">u</tspan><tspan font-size="7" dy="2" font-style="italic">ST</tspan><tspan dy="-2">(</tspan><tspan font-style="italic">X</tspan>,<tspan font-style="italic">τ</tspan>)‖<tspan font-size="7" dy="2">∞</tspan><tspan dy="-2">, ‖</tspan><tspan font-style="italic">u</tspan><tspan font-size="7" dy="2" font-style="italic">P</tspan><tspan dy="-2">(</tspan><tspan font-style="italic">X</tspan>,<tspan font-style="italic">τ</tspan>)‖<tspan font-size="7" dy="2">∞</tspan><tspan dy="-2">}</tspan></text>
<text x="10.5" y="637.3" font-size="19.5" font-weight="bold" fill="#111" font-family="Liberation Serif, serif" textLength="23" lengthAdjust="spacingAndGlyphs">(c)</text>
<text x="41.3" y="638.4" font-size="13.2" fill="#333" font-family="Liberation Serif, serif" textLength="313.5" lengthAdjust="spacingAndGlyphs">Maximum Relative Difference, Tip Cell Solutions</text>
<rect x="405.5" y="348.4" width="277.9" height="219.3" fill="none" stroke="#6e6e6e" stroke-width="1.2"/>
<path d="M418.9,567.7V565.9M418.9,348.4V350.2M432.4,567.7V565.9M432.4,348.4V350.2M443.4,567.7V565.9M443.4,348.4V350.2M452.7,567.7V565.9M452.7,348.4V350.2M460.7,567.7V565.9M460.7,348.4V350.2M467.8,567.7V565.9M467.8,348.4V350.2M516,567.7V565.9M516,348.4V350.2M540.5,567.7V565.9M540.5,348.4V350.2M557.8,567.7V565.9M557.8,348.4V350.2M571.3,567.7V565.9M571.3,348.4V350.2M582.3,567.7V565.9M582.3,348.4V350.2M591.6,567.7V565.9M591.6,348.4V350.2M599.6,567.7V565.9M599.6,348.4V350.2M606.7,567.7V565.9M606.7,348.4V350.2M654.9,567.7V565.9M654.9,348.4V350.2M679.4,567.7V565.9M679.4,348.4V350.2M474.2,567.7V564.1M474.2,348.4V352M613.1,567.7V564.1M613.1,348.4V352M405.5,566.4H407.3M683.4,566.4H681.6M405.5,554.9H407.3M683.4,554.9H681.6M405.5,544.9H407.3M683.4,544.9H681.6M405.5,536.2H407.3M683.4,536.2H681.6M405.5,476.6H407.3M683.4,476.6H681.6M405.5,446.4H407.3M683.4,446.4H681.6M405.5,425H407.3M683.4,425H681.6M405.5,408.4H407.3M683.4,408.4H681.6M405.5,394.8H407.3M683.4,394.8H681.6M405.5,383.3H407.3M683.4,383.3H681.6M405.5,373.3H407.3M683.4,373.3H681.6M405.5,364.6H407.3M683.4,364.6H681.6M405.5,528.3H409.1M683.4,528.3H679.8M405.5,356.7H409.1M683.4,356.7H679.8" stroke="#6e6e6e" stroke-width="1" fill="none"/>
<text x="395.4" y="363.9" font-size="12" text-anchor="end" letter-spacing="0.35" fill="#1a1a1a" font-family="Liberation Sans, sans-serif">10</text>
<text x="396.4" y="357.4" font-size="10" fill="#1a1a1a" font-family="Liberation Sans, sans-serif">1</text>
<text x="394.6" y="534.7" font-size="12" text-anchor="end" letter-spacing="0.35" fill="#1a1a1a" font-family="Liberation Sans, sans-serif">10</text>
<text x="394.4" y="528.8" font-size="10.5" fill="#1a1a1a" font-family="Liberation Sans, sans-serif">0</text>
<text x="462.2" y="588.7" font-size="12" letter-spacing="0.35" fill="#1a1a1a" font-family="Liberation Sans, sans-serif">10</text>
<text x="475.6" y="582.2" font-size="10.5" fill="#1a1a1a" font-family="Liberation Sans, sans-serif">-1</text>
<text x="602.9" y="588.8" font-size="12" letter-spacing="0.35" fill="#1a1a1a" font-family="Liberation Sans, sans-serif">10</text>
<text x="617.6" y="582.1" font-size="10.5" fill="#1a1a1a" font-family="Liberation Sans, sans-serif">0</text>
<svg x="405.5" y="348.4" width="277.9" height="220.30000000000007" viewBox="405.5 348.4 277.9 220.30000000000007" overflow="hidden"><path d="M405.5,348.5L406.4,349.7L407.4,350.8L408.3,352L409.2,353.2L410.1,354.3L411.1,355.5L412,356.6L412.9,357.8L413.9,359L414.8,360.1L415.7,361.3L416.7,362.4L417.6,363.6L418.5,364.8L419.4,365.9L420.4,367.1L421.3,368.2L422.2,369.4L423.2,370.6L424.1,371.7L425,372.9L425.9,374L426.9,375.2L427.8,376.4L428.7,377.5L429.7,378.7L430.6,379.8L431.5,381L432.5,382.2L433.4,383.3L434.3,384.5L435.2,385.6L436.2,386.8L437.1,388L438,389.1L439,390.3L439.9,391.4L440.8,392.6L441.7,393.8L442.7,394.9L443.6,396.1L444.5,397.2L445.5,398.4L446.4,399.6L447.3,400.7L448.3,401.9L449.2,403L450.1,404.2L451,405.4L452,406.5L452.9,407.7L453.8,408.8L454.8,410L455.7,411.2L456.6,412.3L457.5,413.5L458.5,414.6L459.4,415.8L460.3,417L461.3,418.1L462.2,419.3L463.1,420.4L464.1,421.6L465,422.8L465.9,423.9L466.8,425.1L467.8,426.2L468.7,427.4L469.6,428.6L470.6,429.7L471.5,430.9L472.4,432L473.3,433.2L474.3,434.4L475.2,435.5L476.1,436.7L477.1,437.8L478,439L478.9,440.1L479.9,441.3L480.8,442.5L481.7,443.6L482.6,444.8L483.6,446L484.5,447.1L485.4,448.3L486.4,449.5L487.3,450.6L488.2,451.8L489.1,452.9L490.1,454.1L491,455.3L491.9,456.4L492.9,457.6L493.8,458.8L494.7,459.9L495.7,461.1L496.6,462.3L497.5,463.4L498.4,464.6L499.4,465.7L500.3,466.9L501.2,468.1L502.2,469.2L503.1,470.4L504,471.5L504.9,472.7L505.9,473.9L506.8,475L507.7,476.2L508.7,477.3L509.6,478.5L510.5,479.7L511.5,480.8L512.4,482L513.3,483.1L514.2,484.3L515.2,485.4L516.1,486.6L517,487.7L518,488.9L518.9,490L519.8,491.2L520.7,492.3L521.7,493.5L522.6,494.6L523.5,495.8L524.5,496.9L525.4,498.1L526.3,499.2L527.3,500.4L528.2,501.5L529.1,502.7L530,503.8L531,504.9L531.9,506.1L532.8,507.2L533.8,508.3L534.7,509.4L535.6,510.5L536.5,511.7L537.5,512.8L538.4,513.9L539.3,515L540.3,516.1L541.2,517.2L542.1,518.3L543.1,519.4L544,520.5L544.9,521.6L545.8,522.7L546.8,523.8L547.7,524.9L548.6,526L549.6,527.1L550.5,528.1L551.4,529.2L552.4,530.3L553.3,531.3L554.2,532.4L555.1,533.4L556.1,534.5L557,535.5L557.9,536.5L558.9,537.6L559.8,538.6L560.7,539.6L561.6,540.6L562.6,541.6L563.5,542.6L564.4,543.6L565.4,544.5L566.3,545.5L567.2,546.4L568.2,547.4L569.1,548.3L570,549.2L570.9,550.1L571.9,551L572.8,551.9L573.7,552.7L574.7,553.6L575.6,554.4L576.5,555.2L577.4,556L578.4,556.8L579.3,557.6L580.2,558.3L581.2,559L582.1,559.7L583,560.4L584,561.1L584.9,561.7L585.8,562.3L586.7,562.9L587.7,563.5L588.6,564L589.5,564.5L590.5,565L591.4,565.5L592.3,565.9L593.2,566.3L594.2,566.7L595.1,567L596,567.3L597,567.6L597.9,567.8L598.8,568L599.8,568.2L600.7,568.3L601.6,568.4L602.5,568.5L603.5,568.5L604.4,568.5L605.3,568.4L606.3,568.3L607.2,568.1L608.1,567.9L609,567.6L610,567.3L610.9,567L611.8,566.6L612.8,566.2L613.7,565.7L614.6,565.2L615.6,564.6L616.5,564L617.4,563.4L618.3,562.7L619.3,562L620.2,561.2L621.1,560.4L622.1,559.5L623,558.7L623.9,557.7L624.8,556.8L625.8,555.8L626.7,554.8L627.6,553.7L628.6,552.6L629.5,551.5L630.4,550.4L631.4,549.2L632.3,547.9L633.2,546.7L634.1,545.4L635.1,544.1L636,542.7L636.9,541.4L637.9,540L638.8,538.5L639.7,537.1L640.6,535.6L641.6,534.1L642.5,532.5L643.4,531L644.4,529.4L645.3,527.8L646.2,526.2L647.2,524.6L648.1,522.9L649,521.2L649.9,519.5L650.9,517.8L651.8,516.1L652.7,514.3L653.7,512.6L654.6,510.8L655.5,509L656.4,507.2L657.4,505.4L658.3,503.6L659.2,501.8L660.2,499.9L661.1,498.1L662,496.2L663,494.3L663.9,492.4L664.8,490.5L665.7,488.6L666.7,486.7L667.6,484.8L668.5,482.9L669.5,481L670.4,479L671.3,477.1L672.2,475.1L673.2,473.2L674.1,471.2L675,469.2L676,467.3L676.9,465.3L677.8,463.3L678.8,461.3L679.7,459.4L680.6,457.4L681.5,455.4L682.5,453.4L683.4,451.4" stroke="#ff0000" stroke-width="1.2" stroke-dasharray="5,3" fill="none"/><path d="M405.5,348.3L406.4,349.5L407.4,350.6L408.3,351.8L409.2,352.9L410.1,354.1L411.1,355.3L412,356.4L412.9,357.6L413.9,358.7L414.8,359.9L415.7,361L416.7,362.2L417.6,363.3L418.5,364.5L419.4,365.7L420.4,366.8L421.3,368L422.2,369.1L423.2,370.3L424.1,371.4L425,372.6L425.9,373.7L426.9,374.9L427.8,376.1L428.7,377.2L429.7,378.4L430.6,379.5L431.5,380.7L432.5,381.8L433.4,383L434.3,384.1L435.2,385.3L436.2,386.4L437.1,387.6L438,388.8L439,389.9L439.9,391.1L440.8,392.2L441.7,393.4L442.7,394.5L443.6,395.7L444.5,396.8L445.5,398L446.4,399.1L447.3,400.3L448.3,401.5L449.2,402.6L450.1,403.8L451,404.9L452,406.1L452.9,407.2L453.8,408.4L454.8,409.5L455.7,410.7L456.6,411.9L457.5,413L458.5,414.2L459.4,415.3L460.3,416.5L461.3,417.6L462.2,418.8L463.1,419.9L464.1,421.1L465,422.2L465.9,423.4L466.8,424.6L467.8,425.7L468.7,426.9L469.6,428L470.6,429.2L471.5,430.3L472.4,431.5L473.3,432.6L474.3,433.8L475.2,434.9L476.1,436.1L477.1,437.2L478,438.4L478.9,439.6L479.9,440.7L480.8,441.9L481.7,443L482.6,444.2L483.6,445.3L484.5,446.5L485.4,447.6L486.4,448.8L487.3,449.9L488.2,451.1L489.1,452.2L490.1,453.4L491,454.5L491.9,455.7L492.9,456.8L493.8,458L494.7,459.2L495.7,460.3L496.6,461.5L497.5,462.6L498.4,463.8L499.4,464.9L500.3,466.1L501.2,467.2L502.2,468.4L503.1,469.5L504,470.7L504.9,471.8L505.9,473L506.8,474.1L507.7,475.2L508.7,476.4L509.6,477.5L510.5,478.7L511.5,479.8L512.4,481L513.3,482.1L514.2,483.3L515.2,484.4L516.1,485.6L517,486.7L518,487.8L518.9,489L519.8,490.1L520.7,491.3L521.7,492.4L522.6,493.5L523.5,494.7L524.5,495.8L525.4,496.9L526.3,498.1L527.3,499.2L528.2,500.3L529.1,501.5L530,502.6L531,503.7L531.9,504.8L532.8,506L533.8,507.1L534.7,508.2L535.6,509.3L536.5,510.5L537.5,511.6L538.4,512.7L539.3,513.8L540.3,514.9L541.2,516L542.1,517.1L543.1,518.2L544,519.3L544.9,520.4L545.8,521.5L546.8,522.6L547.7,523.7L548.6,524.7L549.6,525.8L550.5,526.9L551.4,527.9L552.4,529L553.3,530.1L554.2,531.1L555.1,532.2L556.1,533.2L557,534.2L557.9,535.3L558.9,536.3L559.8,537.3L560.7,538.3L561.6,539.3L562.6,540.3L563.5,541.3L564.4,542.3L565.4,543.2L566.3,544.2L567.2,545.1L568.2,546.1L569.1,547L570,547.9L570.9,548.8L571.9,549.7L572.8,550.6L573.7,551.4L574.7,552.3L575.6,553.1L576.5,553.9L577.4,554.7L578.4,555.5L579.3,556.3L580.2,557L581.2,557.8L582.1,558.5L583,559.2L584,559.8L584.9,560.5L585.8,561.1L586.7,561.7L587.7,562.2L588.6,562.8L589.5,563.3L590.5,563.8L591.4,564.3L592.3,564.7L593.2,565.1L594.2,565.5L595.1,565.8L596,566.1L597,566.4L597.9,566.6L598.8,566.8L599.8,567L600.7,567.1L601.6,567.2L602.5,567.3L603.5,567.3L604.4,567.3L605.3,567.2L606.3,567.1L607.2,567L608.1,566.8L609,566.6L610,566.3L610.9,566L611.8,565.7L612.8,565.3L613.7,564.8L614.6,564.4L615.6,563.8L616.5,563.3L617.4,562.7L618.3,562L619.3,561.3L620.2,560.6L621.1,559.8L622.1,559L623,558.2L623.9,557.3L624.8,556.4L625.8,555.4L626.7,554.4L627.6,553.3L628.6,552.3L629.5,551.1L630.4,550L631.4,548.8L632.3,547.6L633.2,546.3L634.1,545.1L635.1,543.8L636,542.4L636.9,541L637.9,539.6L638.8,538.2L639.7,536.8L640.6,535.3L641.6,533.8L642.5,532.3L643.4,530.7L644.4,529.1L645.3,527.5L646.2,525.9L647.2,524.3L648.1,522.7L649,521L649.9,519.3L650.9,517.6L651.8,515.9L652.7,514.1L653.7,512.4L654.6,510.6L655.5,508.8L656.4,507L657.4,505.2L658.3,503.4L659.2,501.6L660.2,499.8L661.1,497.9L662,496L663,494.2L663.9,492.3L664.8,490.4L665.7,488.5L666.7,486.6L667.6,484.7L668.5,482.8L669.5,480.9L670.4,478.9L671.3,477L672.2,475.1L673.2,473.1L674.1,471.1L675,469.2L676,467.2L676.9,465.3L677.8,463.3L678.8,461.3L679.7,459.3L680.6,457.3L681.5,455.4L682.5,453.4L683.4,451.4" stroke="#0000ff" stroke-width="1.2" fill="none"/></svg>
<text x="544" y="603.6" font-size="14.4" text-anchor="middle" fill="#1a1a1a" font-family="Liberation Serif, serif" textLength="7.4" lengthAdjust="spacingAndGlyphs"><tspan font-style="italic">τ</tspan></text>
<text transform="translate(373.9,458) rotate(-90)" font-size="14.4" text-anchor="middle" fill="#222" font-family="Liberation Serif, serif" textLength="83.4" lengthAdjust="spacingAndGlyphs">max<tspan font-size="10" dy="3" font-style="italic">X</tspan><tspan dy="-3" dx="3" font-style="italic">u</tspan>(<tspan font-style="italic">X</tspan>, <tspan font-style="italic">τ</tspan>)</text>
<rect x="573.5" y="383.4" width="72" height="55.6" fill="#fff" stroke="#333" stroke-width="1"/>
<path d="M573.5,438H575.3M645.5,438H643.7M573.5,417H575.3M645.5,417H643.7M573.5,398H575.3M645.5,398H643.7M614.1,439V437.2M614.1,383.4V385.2M578.6,439V437.9M578.6,383.4V384.5M583.3,439V437.9M583.3,383.4V384.5M587.9,439V437.9M587.9,383.4V384.5M592.4,439V437.9M592.4,383.4V384.5M596.9,439V437.9M596.9,383.4V384.5M601.3,439V437.9M601.3,383.4V384.5M605.6,439V437.9M605.6,383.4V384.5M609.9,439V437.9M609.9,383.4V384.5M618.2,439V437.9M618.2,383.4V384.5M622.3,439V437.9M622.3,383.4V384.5M626.4,439V437.9M626.4,383.4V384.5M630.3,439V437.9M630.3,383.4V384.5M634.3,439V437.9M634.3,383.4V384.5M638.1,439V437.9M638.1,383.4V384.5M642,439V437.9M642,383.4V384.5M573.5,433.6H574.6M645.5,433.6H644.4M573.5,429.3H574.6M645.5,429.3H644.4M573.5,425.1H574.6M645.5,425.1H644.4M573.5,421H574.6M645.5,421H644.4M573.5,413H574.6M645.5,413H644.4M573.5,409.2H574.6M645.5,409.2H644.4M573.5,405.4H574.6M645.5,405.4H644.4M573.5,401.6H574.6M645.5,401.6H644.4M573.5,394.4H574.6M645.5,394.4H644.4M573.5,390.9H574.6M645.5,390.9H644.4M573.5,387.4H574.6M645.5,387.4H644.4M573.5,384H574.6M645.5,384H644.4" stroke="#333" stroke-width="1" fill="none"/>
<clipPath id="cdi"><rect x="573.5" y="383.4" width="72.0" height="55.60000000000002"/></clipPath>
<g clip-path="url(#cdi)"><path d="M577.5,384L645.5,432.8" stroke="#ff0000" stroke-width="1.3" stroke-dasharray="5,3" fill="none"/><path d="M576.5,382.2L645.5,429.8" stroke="#0000ff" stroke-width="1.3" fill="none"/></g>
<text x="570.2" y="442" font-size="11" text-anchor="end" fill="#1a1a1a" font-family="Liberation Sans, sans-serif"  letter-spacing="0.55" stroke="#1a1a1a" stroke-width="0.25">4.5</text>
<text x="570.2" y="421" font-size="11" text-anchor="end" fill="#1a1a1a" font-family="Liberation Sans, sans-serif"  letter-spacing="0.55" stroke="#1a1a1a" stroke-width="0.25">5</text>
<text x="570.2" y="402" font-size="11" text-anchor="end" fill="#1a1a1a" font-family="Liberation Sans, sans-serif"  letter-spacing="0.55" stroke="#1a1a1a" stroke-width="0.25">5.5</text>
<text x="615.9" y="454.5" font-size="11" text-anchor="middle" fill="#1a1a1a" font-family="Liberation Sans, sans-serif"  letter-spacing="0.55" stroke="#1a1a1a" stroke-width="0.25">0.07</text>
<text x="609.5" y="468.6" font-size="12.3" text-anchor="middle" fill="#1a1a1a" font-family="Liberation Serif, serif" textLength="6.2" lengthAdjust="spacingAndGlyphs"><tspan font-style="italic">τ</tspan></text>
<text transform="translate(547.5,412) rotate(-90)" font-size="12.3" text-anchor="middle" fill="#222" font-family="Liberation Serif, serif" textLength="74.7" lengthAdjust="spacingAndGlyphs">max<tspan font-size="8.6" dy="2.5" font-style="italic">X</tspan><tspan dy="-2.5" dx="2.5" font-style="italic">u</tspan>(<tspan font-style="italic">X</tspan>, <tspan font-style="italic">τ</tspan>)</text>
<text x="414.4" y="637.3" font-size="19.5" font-weight="bold" fill="#111" font-family="Liberation Serif, serif" textLength="24.7" lengthAdjust="spacingAndGlyphs">(d)</text>
<text x="448.2" y="638.4" font-size="13.2" fill="#333" font-family="Liberation Serif, serif" textLength="207.1" lengthAdjust="spacingAndGlyphs">Maximum Tip Cell Density vs. <tspan font-style="italic">τ</tspan></text>
</svg>
</body></html>
